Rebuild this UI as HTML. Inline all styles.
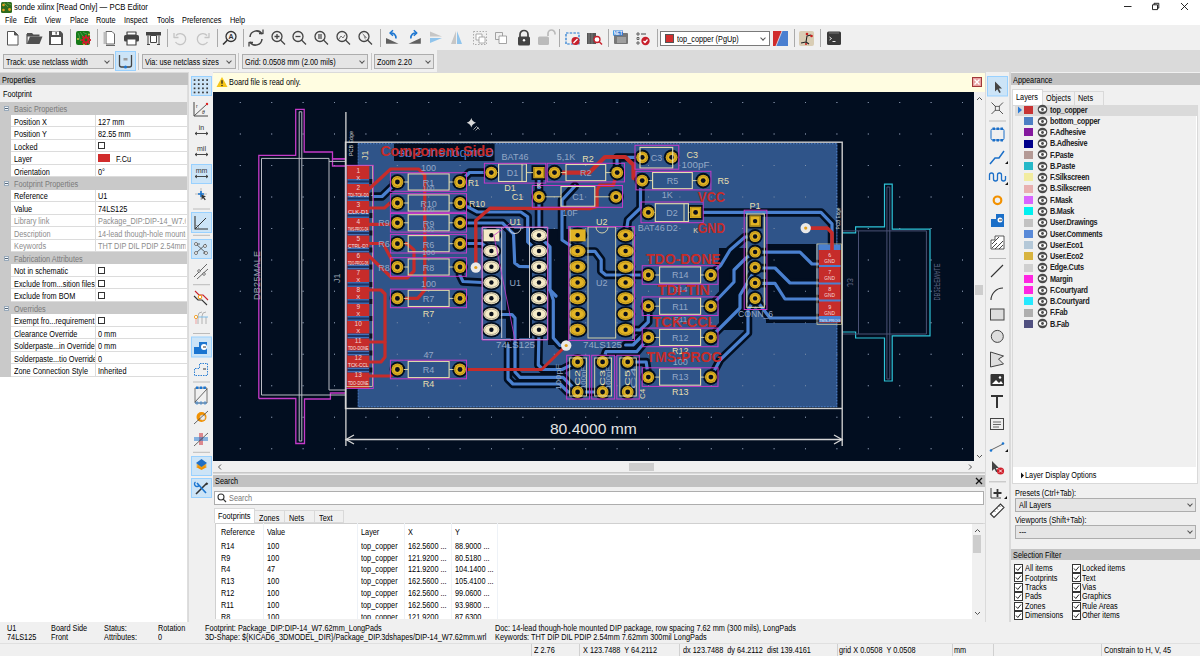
<!DOCTYPE html>
<html><head><meta charset="utf-8">
<style>
*{box-sizing:border-box;margin:0;padding:0}
html,body{width:1200px;height:656px;overflow:hidden;background:#dadada;font-family:"Liberation Sans",sans-serif;font-size:7.5px;color:#000}
.a{position:absolute}
.t{position:absolute;white-space:nowrap;line-height:1;font-size:8.5px;transform:scaleX(0.86);transform-origin:0 0;margin-top:-0.5px}
#title{left:0;top:0;width:1200px;height:13px;background:#fff}
#menu{left:0;top:13px;width:1200px;height:12px;background:#fff}
#tb1{left:0;top:25px;width:1200px;height:25px;background:#f0f0f0}
#tb2{left:0;top:50px;width:437px;height:22px;background:#f0f0f0}
.sep{position:absolute;width:1px;background:#c8c8c8}
.combo{position:absolute;background:#e5e5e5;border:1px solid #adadad}
.combo.w{background:#fff;border-color:#7a7a7a}
.arrow{position:absolute;width:5px;height:5px;border-right:1px solid #444;border-bottom:1px solid #444;transform:rotate(45deg)}
.hdr{position:absolute;background:#c2c2c2;height:12px}
.btnon{position:absolute;background:#cce4f7;border:1px solid #99d1ff}
</style></head><body>
<!-- title -->
<div class="a" id="title">
 <svg class="a" style="left:1px;top:2px" width="11" height="11"><rect x="0" y="0" width="11" height="11" rx="1.5" fill="#2e6b1e"/><path d="M3 0.5C4 3 6 3 7 5M6 0.5C7 2 9 2 10.5 3" stroke="#6fae4a" stroke-width="0.8" fill="none"/><circle cx="2.5" cy="3" r="1.3" fill="#e8a020"/><circle cx="2.5" cy="8" r="1.3" fill="#e8a020"/><circle cx="8.5" cy="7.5" r="1.4" fill="#e8a020"/></svg>
 <div class="t" style="left:14px;top:3px;font-size:9px">sonde xilinx [Read Only] — PCB Editor</div>
 <svg class="a" style="left:1118px;top:0" width="80" height="13"><path d="M6 6.5H13.5" stroke="#111" stroke-width="0.9"/><path d="M34.5 4.8h5v4.8h-5z M36 4.8v-1.5h4.8v4.8h-1.2" fill="none" stroke="#111" stroke-width="0.9"/><path d="M63 3L70 10M70 3L63 10" stroke="#111" stroke-width="0.9"/></svg>
</div>
<div class="a" id="menu" style="padding-top:1px">
 <div class="t" style="left:5px;top:3px">File</div>
 <div class="t" style="left:24px;top:3px">Edit</div>
 <div class="t" style="left:45px;top:3px">View</div>
 <div class="t" style="left:70px;top:3px">Place</div>
 <div class="t" style="left:96px;top:3px">Route</div>
 <div class="t" style="left:124px;top:3px">Inspect</div>
 <div class="t" style="left:157px;top:3px">Tools</div>
 <div class="t" style="left:182px;top:3px">Preferences</div>
 <div class="t" style="left:230px;top:3px">Help</div>
</div>
<div class="a" id="tb1"></div>
<svg class="a" style="left:0;top:25px" width="1200" height="25" viewBox="0 0 1200 25">
<g fill="none" stroke-linejoin="round">
<!-- new -->
<path d="M7.5 6.5h7l3.5 3.5v10h-10.5z" fill="#fff" stroke="#555" stroke-width="1"/>
<path d="M14.5 6.5v3.5h3.5" fill="#555" stroke="#555"/>
<!-- open -->
<path d="M27 8h5l1.5 1.5h6v2h-12.5z" fill="#505050"/>
<path d="M27 19l3-7.5h12.5l-3 7.5z" fill="#505050"/>
<path d="M27 9v10" stroke="#505050" stroke-width="1.2"/>
<!-- save -->
<path d="M49 6h11.5l2.5 2.5v11.5h-14z" fill="#505050"/>
<rect x="52" y="6.5" width="7" height="3.5" fill="#fff"/>
<rect x="55.5" y="7" width="1.3" height="2.5" fill="#505050"/>
<rect x="51" y="12" width="10" height="7" fill="#fff"/>
<!-- sep -->
<rect x="70" y="4" width="1" height="18" fill="#aaa" stroke="none"/>
<!-- pcb -->
<rect x="76" y="6" width="14" height="14" rx="2" fill="#157a18"/>
<path d="M78 8c2 3 1 6 3 8M80 7c2 2 2 4 4 5M83 7c1 1 3 2 4 2" stroke="#5aa85a" stroke-width="0.8"/>
<rect x="85.1" y="10" width="1.8" height="2.2" fill="#d01c2c" transform="rotate(0 86 15)"/><rect x="85.1" y="10" width="1.8" height="2.2" fill="#d01c2c" transform="rotate(45 86 15)"/><rect x="85.1" y="10" width="1.8" height="2.2" fill="#d01c2c" transform="rotate(90 86 15)"/><rect x="85.1" y="10" width="1.8" height="2.2" fill="#d01c2c" transform="rotate(135 86 15)"/><rect x="85.1" y="10" width="1.8" height="2.2" fill="#d01c2c" transform="rotate(180 86 15)"/><rect x="85.1" y="10" width="1.8" height="2.2" fill="#d01c2c" transform="rotate(225 86 15)"/><rect x="85.1" y="10" width="1.8" height="2.2" fill="#d01c2c" transform="rotate(270 86 15)"/><rect x="85.1" y="10" width="1.8" height="2.2" fill="#d01c2c" transform="rotate(315 86 15)"/><circle cx="86" cy="15" r="3.4" fill="#d01c2c"/><circle cx="86" cy="15" r="1.4" fill="#157a18"/><circle cx="89" cy="9.5" r="0.9" fill="#f2c94c"/><circle cx="84" cy="19.5" r="0.8" fill="#f2c94c"/>
<circle cx="78" cy="14" r="0.9" fill="#f2c94c"/>
<rect x="97" y="4" width="1" height="18" fill="#aaa" stroke="none"/>
<!-- page -->
<path d="M106 6.5h6l2.5 2.5v10h-8.5z" fill="#fff" stroke="#666" stroke-width="1"/>
<rect x="103.5" y="7" width="2.5" height="12" fill="#bbb"/>
<path d="M106 20.5h9" stroke="#666"/>
<!-- print -->
<path d="M127 7h9v3h-9z" fill="#fff" stroke="#444" stroke-width="1.2"/>
<rect x="124" y="10" width="15" height="6.5" rx="1.5" fill="#444"/>
<path d="M127 14h9v6h-9z" fill="#fff" stroke="#444" stroke-width="1.2"/>
<!-- plot -->
<rect x="146" y="7" width="15" height="3.5" fill="#444"/>
<path d="M148 10.5v9M159 10.5v9M147 19.5h3M157 19.5h3" stroke="#444" stroke-width="1"/>
<path d="M150.5 10.5h6v7h-6z" fill="#fff" stroke="#444" stroke-width="1"/>
<rect x="167" y="4" width="1" height="18" fill="#aaa" stroke="none"/>
<!-- undo/redo -->
<path d="M176 10.5a5.5 5.5 0 1 1 -0.5 6.5" stroke="#c4c4c4" stroke-width="1.3"/>
<path d="M174 8v4.5h4.5" stroke="#c4c4c4" stroke-width="1.3"/>
<path d="M207 10.5a5.5 5.5 0 1 0 0.5 6.5" stroke="#c4c4c4" stroke-width="1.3"/>
<path d="M209 8v4.5h-4.5" stroke="#c4c4c4" stroke-width="1.3"/>
<rect x="217" y="4" width="1" height="18" fill="#aaa" stroke="none"/>
<!-- find -->
<circle cx="231" cy="11.5" r="5" stroke="#333" stroke-width="1.3"/>
<path d="M227.5 15l-4.5 4.5" stroke="#333" stroke-width="1.6"/>
<text x="231" y="14" font-size="7" font-weight="bold" text-anchor="middle" fill="#333" stroke="none" font-family="Liberation Sans">A</text>
<rect x="243" y="4" width="1" height="18" fill="#aaa" stroke="none"/>
<!-- refresh -->
<path d="M250 12a6.5 6.5 0 0 1 12 -3M262 14a6.5 6.5 0 0 1 -12 3" stroke="#444" stroke-width="1.5"/>
<path d="M259 8.5h4v-4M253 17.5h-4v4" stroke="#444" stroke-width="1.3"/>
<!-- zooms -->
<g stroke="#444" stroke-width="1.3">
<circle cx="277" cy="11.5" r="5"/><path d="M280.5 15l4.5 4.5"/><path d="M274.5 11.5h5M277 9v5"/>
<circle cx="298" cy="11.5" r="5"/><path d="M301.5 15l4.5 4.5"/><path d="M295.5 11.5h5"/>
<circle cx="320" cy="11.5" r="5"/><path d="M323.5 15l4.5 4.5"/>
<circle cx="342" cy="11.5" r="5"/><path d="M345.5 15l4.5 4.5"/>
<circle cx="364" cy="11.5" r="5"/><path d="M367.5 15l4.5 4.5"/>
</g>
<rect x="318" y="9" width="4" height="5" fill="#888"/>
<path d="M339 14l2-3 2 2 2-3" stroke="#777" stroke-width="1"/>
<path d="M362.5 8.5l4 4h-2l1 2" stroke="#888" fill="#888" stroke-width="0.8"/>
<rect x="380" y="4" width="1" height="18" fill="#aaa" stroke="none"/>
<!-- rotate -->
<path d="M386 12.9V18.8H398.5z" fill="#606060"/>
<path d="M396 13.5C396 9.5 393.5 7.8 390.5 8" stroke="#1b75d0" stroke-width="1.6"/>
<path d="M393 5.3L390 8L393 10.7" stroke="#1b75d0" stroke-width="1.5"/>
<path d="M408.5 18.8L420.8 12.9V18.8z" fill="#606060"/>
<path d="M410.8 13.5C410.8 9.5 413.3 7.8 416.3 8" stroke="#1b75d0" stroke-width="1.6"/>
<path d="M413.8 5.3L416.8 8L413.8 10.7" stroke="#1b75d0" stroke-width="1.5"/>
<!-- flip -->
<path d="M430 6.5l12 5h-12z" fill="#c6c6c6"/>
<path d="M430 13l12 0h-0l-12 5z" fill="#90c4ec"/>
<path d="M451 19l5-13v13z" fill="#c6c6c6"/>
<path d="M457 6l5 13h-5z" fill="#90c4ec"/>
<!-- group -->
<rect x="473.5" y="6.5" width="13" height="13" stroke="#999" stroke-width="0.8" stroke-dasharray="1.5 1.5"/>
<rect x="476" y="9" width="6" height="6" fill="#fff" stroke="#999" stroke-width="0.8"/>
<rect x="479" y="12" width="6" height="6" fill="#fff" stroke="#999" stroke-width="0.8"/>
<rect x="495.5" y="7.5" width="7" height="7" stroke="#999" stroke-width="0.9"/>
<rect x="499" y="11" width="7.5" height="7.5" fill="#fff" stroke="#999" stroke-width="0.9"/>
<!-- lock -->
<path d="M520 12v-2.5a4 4 0 0 1 8 0v2.5" stroke="#444" stroke-width="1.7"/>
<rect x="518" y="11.5" width="12" height="9" rx="1.5" fill="#444"/>
<circle cx="524" cy="15.3" r="1.2" fill="#fff"/>
<path d="M548 11v-2.5a3.5 3.5 0 0 1 7 0v1" stroke="#bbb" stroke-width="1.7"/>
<rect x="538" y="11.5" width="11" height="8.5" rx="1.5" fill="#bbb"/>
<rect x="559" y="4" width="1" height="18" fill="#aaa" stroke="none"/>
<!-- fp editor -->
<path d="M566 8h13v11h-13z" stroke="#1b75d0" stroke-width="1.2" stroke-dasharray="2.5 1.2"/>
<circle cx="575.5" cy="16" r="4" fill="#c8202c"/>
<path d="M573.5 18l4-4" stroke="#fff" stroke-width="1.2"/>
<!-- fp browser -->
<rect x="587" y="8" width="9" height="11" fill="#555"/>
<path d="M589 8v11M592 8v11" stroke="#888" stroke-width="0.8"/>
<circle cx="597" cy="14.5" r="3" fill="#fff" stroke="#c8202c" stroke-width="1.3"/>
<path d="M599 16.5l3 3" stroke="#c8202c" stroke-width="1.4"/>
<rect x="608" y="4" width="1" height="18" fill="#aaa" stroke="none"/>
<!-- netlist -->
<rect x="614" y="8" width="14" height="11" rx="1" fill="#777"/>
<path d="M617 13h9M617 15h9M617 17h9" stroke="#ddd" stroke-width="0.8"/>
<rect x="613" y="5.5" width="10" height="5" fill="#2a7ad6"/>
<text x="618" y="10" font-size="4.5" font-weight="bold" text-anchor="middle" fill="#fff" stroke="none" font-family="Liberation Sans">NET</text>
<!-- drc -->
<path d="M637 8h2v2h-2zM637 12.5h2v2h-2zM637 17h2v2h-2z" stroke="#444" stroke-width="0.8"/>
<path d="M641 9h5" stroke="#444"/>
<circle cx="645.5" cy="16" r="4.2" fill="#c8202c"/>
<path d="M643.5 16l1.5 1.5 2.5-3" stroke="#fff" stroke-width="1.2"/>
<rect x="657" y="4" width="1" height="18" fill="#aaa" stroke="none"/>
<!-- layer pair -->
<path d="M773 6h15v15h-15z" fill="#4a7fd0"/>
<path d="M773 6h9l-6 15h-3z" fill="#d02c2c"/>
<path d="M782 6l-6 15" stroke="#eee" stroke-width="0.8"/>
<rect x="794" y="4" width="1" height="18" fill="#aaa" stroke="none"/>
<!-- router -->
<rect x="799" y="6" width="15" height="15" rx="2" fill="#d9cdb4"/>
<path d="M801 18l5-1 1-6 4 -1M806 17l3 2" stroke="#222" stroke-width="1.1"/>
<circle cx="807" cy="9" r="1.3" fill="#c81e1e"/><circle cx="811.5" cy="11" r="1.3" fill="#c81e1e"/><circle cx="806" cy="19" r="1" fill="#c81e1e"/>
<rect x="820" y="4" width="1" height="18" fill="#aaa" stroke="none"/>
<!-- scripting -->
<rect x="827" y="6.5" width="14" height="13.5" rx="1.5" fill="#3a3a3a"/>
<path d="M829 8h10" stroke="#999" stroke-width="0.7"/>
<path d="M829.5 12l2 1.5-2 1.5M832.5 16.5h3" stroke="#fff" stroke-width="0.9"/>
</g>
</svg>

<div class="combo w" style="left:660px;top:31px;width:110px;height:15px"></div>
<div class="a" style="left:665px;top:34px;width:9px;height:9px;background:#d32f2f;border:1px solid #555"></div>
<div class="t" style="left:677px;top:35px">top_copper (PgUp)</div>
<div class="arrow" style="left:761px;top:35.5px;width:4px;height:4px;border-color:#555"></div>

<div class="a" id="tb2"></div>
<div class="combo" style="left:3px;top:54px;width:111px;height:15px"></div>
<div class="t" style="left:6px;top:58px">Track: use netclass width</div>
<div class="arrow" style="left:105px;top:58.5px;width:4px;height:4px;border-color:#555"></div>
<div class="btnon" style="left:115px;top:51px;width:21px;height:20px"></div>
<svg class="a" style="left:115px;top:51px" width="21" height="20"><path d="M4.5 4v10a2 2 0 0 0 2 2h8a2 2 0 0 0 2-2v-10" fill="none" stroke="#444" stroke-width="1.3"/><rect x="8.5" y="7" width="4" height="2.5" fill="#999"/><circle cx="10.5" cy="16" r="1.6" fill="#1b75d0"/></svg>
<div class="sep" style="left:138px;top:53px;height:17px"></div>
<div class="combo" style="left:142px;top:54px;width:94px;height:15px"></div>
<div class="t" style="left:145px;top:58px">Via: use netclass sizes</div>
<div class="arrow" style="left:227px;top:58.5px;width:4px;height:4px;border-color:#555"></div>
<div class="sep" style="left:238px;top:53px;height:17px"></div>
<div class="combo" style="left:242px;top:54px;width:126px;height:15px"></div>
<div class="t" style="left:245px;top:58px">Grid: 0.0508 mm (2.00 mils)</div>
<div class="arrow" style="left:360px;top:58.5px;width:4px;height:4px;border-color:#555"></div>
<div class="sep" style="left:371px;top:53px;height:17px"></div>
<div class="combo" style="left:374px;top:54px;width:60px;height:15px"></div>
<div class="t" style="left:377px;top:58px">Zoom 2.20</div>
<div class="arrow" style="left:426px;top:58.5px;width:4px;height:4px;border-color:#555"></div>

<!-- left properties -->
<div class="a" id="props" style="left:0;top:73px;width:188px;height:550px;background:#fff;border-right:1px solid #dedede"></div>
<div class="hdr" style="left:0;top:73px;width:188px;height:12px"></div>
<div class="t" style="left:2px;top:76.5px">Properties</div>
<div class="a" style="left:0;top:85px;width:187px;height:17px;background:#f0f0f0"></div>
<div class="t" style="left:3px;top:90.5px">Footprint</div>
<div class="a" style="left:0;top:101.5px;width:187px;height:275.47px;background:#c9c9c9"></div>
<div class="a" style="left:3.5px;top:106.04px;width:5px;height:5px;background:#f4f8fc;border:0.5px solid #9ab"></div>
<div class="a" style="left:4.5px;top:108.14px;width:3px;height:0.8px;background:#567"></div>
<div class="t" style="left:14px;top:105.64px;color:#7a7a7a">Basic Properties</div>
<div class="a" style="left:11px;top:114.78px;width:176px;height:12.48px;background:#fff;border-bottom:1px solid #dcdcdc"></div>
<div class="a" style="left:95px;top:114.78px;width:1px;height:12.48px;background:#dcdcdc"></div>
<div class="t" style="left:13.8px;top:118.11px;color:#000;width:94px;overflow:hidden">Position X</div>
<div class="t" style="left:98px;top:118.11px;color:#000;width:102px;overflow:hidden">127 mm</div>
<div class="a" style="left:11px;top:127.25px;width:176px;height:12.48px;background:#fff;border-bottom:1px solid #dcdcdc"></div>
<div class="a" style="left:95px;top:127.25px;width:1px;height:12.48px;background:#dcdcdc"></div>
<div class="t" style="left:13.8px;top:130.59px;color:#000;width:94px;overflow:hidden">Position Y</div>
<div class="t" style="left:98px;top:130.59px;color:#000;width:102px;overflow:hidden">82.55 mm</div>
<div class="a" style="left:11px;top:139.73px;width:176px;height:12.48px;background:#fff;border-bottom:1px solid #dcdcdc"></div>
<div class="a" style="left:95px;top:139.73px;width:1px;height:12.48px;background:#dcdcdc"></div>
<div class="t" style="left:13.8px;top:143.07px;color:#000;width:94px;overflow:hidden">Locked</div>
<div class="a" style="left:98px;top:142.47px;width:7px;height:7px;border:1px solid #333;background:#fff"></div>
<div class="a" style="left:11px;top:152.20px;width:176px;height:12.48px;background:#fff;border-bottom:1px solid #dcdcdc"></div>
<div class="a" style="left:95px;top:152.20px;width:1px;height:12.48px;background:#dcdcdc"></div>
<div class="t" style="left:13.8px;top:155.54px;color:#000;width:94px;overflow:hidden">Layer</div>
<div class="a" style="left:98px;top:154.44px;width:12px;height:8px;background:#d12c2c"></div>
<div class="t" style="left:116px;top:155.54px">F.Cu</div>
<div class="a" style="left:11px;top:164.68px;width:176px;height:12.48px;background:#fff;border-bottom:1px solid #dcdcdc"></div>
<div class="a" style="left:95px;top:164.68px;width:1px;height:12.48px;background:#dcdcdc"></div>
<div class="t" style="left:13.8px;top:168.02px;color:#000;width:94px;overflow:hidden">Orientation</div>
<div class="t" style="left:98px;top:168.02px;color:#000;width:102px;overflow:hidden">0°</div>
<div class="a" style="left:3.5px;top:180.89px;width:5px;height:5px;background:#f4f8fc;border:0.5px solid #9ab"></div>
<div class="a" style="left:4.5px;top:182.99px;width:3px;height:0.8px;background:#567"></div>
<div class="t" style="left:14px;top:180.49px;color:#7a7a7a">Footprint Properties</div>
<div class="a" style="left:11px;top:189.63px;width:176px;height:12.48px;background:#fff;border-bottom:1px solid #dcdcdc"></div>
<div class="a" style="left:95px;top:189.63px;width:1px;height:12.48px;background:#dcdcdc"></div>
<div class="t" style="left:13.8px;top:192.97px;color:#000;width:94px;overflow:hidden">Reference</div>
<div class="t" style="left:98px;top:192.97px;color:#000;width:102px;overflow:hidden">U1</div>
<div class="a" style="left:11px;top:202.11px;width:176px;height:12.48px;background:#fff;border-bottom:1px solid #dcdcdc"></div>
<div class="a" style="left:95px;top:202.11px;width:1px;height:12.48px;background:#dcdcdc"></div>
<div class="t" style="left:13.8px;top:205.45px;color:#000;width:94px;overflow:hidden">Value</div>
<div class="t" style="left:98px;top:205.45px;color:#000;width:102px;overflow:hidden">74LS125</div>
<div class="a" style="left:11px;top:214.58px;width:176px;height:12.48px;background:#fff;border-bottom:1px solid #dcdcdc"></div>
<div class="a" style="left:95px;top:214.58px;width:1px;height:12.48px;background:#dcdcdc"></div>
<div class="t" style="left:13.8px;top:217.92px;color:#8c8c8c;width:94px;overflow:hidden">Library link</div>
<div class="t" style="left:98px;top:217.92px;color:#8c8c8c;width:102px;overflow:hidden">Package_DIP:DIP-14_W7.62mm_LongPads</div>
<div class="a" style="left:11px;top:227.06px;width:176px;height:12.48px;background:#fff;border-bottom:1px solid #dcdcdc"></div>
<div class="a" style="left:95px;top:227.06px;width:1px;height:12.48px;background:#dcdcdc"></div>
<div class="t" style="left:13.8px;top:230.40px;color:#8c8c8c;width:94px;overflow:hidden">Description</div>
<div class="t" style="left:98px;top:230.40px;color:#8c8c8c;width:102px;overflow:hidden">14-lead though-hole mounted DIP package</div>
<div class="a" style="left:11px;top:239.54px;width:176px;height:12.48px;background:#fff;border-bottom:1px solid #dcdcdc"></div>
<div class="a" style="left:95px;top:239.54px;width:1px;height:12.48px;background:#dcdcdc"></div>
<div class="t" style="left:13.8px;top:242.87px;color:#8c8c8c;width:94px;overflow:hidden">Keywords</div>
<div class="t" style="left:98px;top:242.87px;color:#8c8c8c;width:102px;overflow:hidden">THT DIP DIL PDIP 2.54mm 7.62mm</div>
<div class="a" style="left:3.5px;top:255.75px;width:5px;height:5px;background:#f4f8fc;border:0.5px solid #9ab"></div>
<div class="a" style="left:4.5px;top:257.85px;width:3px;height:0.8px;background:#567"></div>
<div class="t" style="left:14px;top:255.35px;color:#7a7a7a">Fabrication Attributes</div>
<div class="a" style="left:11px;top:264.49px;width:176px;height:12.48px;background:#fff;border-bottom:1px solid #dcdcdc"></div>
<div class="a" style="left:95px;top:264.49px;width:1px;height:12.48px;background:#dcdcdc"></div>
<div class="t" style="left:13.8px;top:267.83px;color:#000;width:94px;overflow:hidden">Not in schematic</div>
<div class="a" style="left:98px;top:267.23px;width:7px;height:7px;border:1px solid #333;background:#fff"></div>
<div class="a" style="left:11px;top:276.96px;width:176px;height:12.48px;background:#fff;border-bottom:1px solid #dcdcdc"></div>
<div class="a" style="left:95px;top:276.96px;width:1px;height:12.48px;background:#dcdcdc"></div>
<div class="t" style="left:13.8px;top:280.30px;color:#000;width:94px;overflow:hidden">Exclude from...sition files</div>
<div class="a" style="left:98px;top:279.70px;width:7px;height:7px;border:1px solid #333;background:#fff"></div>
<div class="a" style="left:11px;top:289.44px;width:176px;height:12.48px;background:#fff;border-bottom:1px solid #dcdcdc"></div>
<div class="a" style="left:95px;top:289.44px;width:1px;height:12.48px;background:#dcdcdc"></div>
<div class="t" style="left:13.8px;top:292.78px;color:#000;width:94px;overflow:hidden">Exclude from BOM</div>
<div class="a" style="left:98px;top:292.18px;width:7px;height:7px;border:1px solid #333;background:#fff"></div>
<div class="a" style="left:3.5px;top:305.65px;width:5px;height:5px;background:#f4f8fc;border:0.5px solid #9ab"></div>
<div class="a" style="left:4.5px;top:307.75px;width:3px;height:0.8px;background:#567"></div>
<div class="t" style="left:14px;top:305.25px;color:#7a7a7a">Overrides</div>
<div class="a" style="left:11px;top:314.39px;width:176px;height:12.48px;background:#fff;border-bottom:1px solid #dcdcdc"></div>
<div class="a" style="left:95px;top:314.39px;width:1px;height:12.48px;background:#dcdcdc"></div>
<div class="t" style="left:13.8px;top:317.73px;color:#000;width:94px;overflow:hidden">Exempt fro...requirement</div>
<div class="a" style="left:98px;top:317.13px;width:7px;height:7px;border:1px solid #333;background:#fff"></div>
<div class="a" style="left:11px;top:326.87px;width:176px;height:12.48px;background:#fff;border-bottom:1px solid #dcdcdc"></div>
<div class="a" style="left:95px;top:326.87px;width:1px;height:12.48px;background:#dcdcdc"></div>
<div class="t" style="left:13.8px;top:330.21px;color:#000;width:94px;overflow:hidden">Clearance Override</div>
<div class="t" style="left:98px;top:330.21px;color:#000;width:102px;overflow:hidden">0 mm</div>
<div class="a" style="left:11px;top:339.34px;width:176px;height:12.48px;background:#fff;border-bottom:1px solid #dcdcdc"></div>
<div class="a" style="left:95px;top:339.34px;width:1px;height:12.48px;background:#dcdcdc"></div>
<div class="t" style="left:13.8px;top:342.68px;color:#000;width:94px;overflow:hidden">Solderpaste...in Override</div>
<div class="t" style="left:98px;top:342.68px;color:#000;width:102px;overflow:hidden">0 mm</div>
<div class="a" style="left:11px;top:351.82px;width:176px;height:12.48px;background:#fff;border-bottom:1px solid #dcdcdc"></div>
<div class="a" style="left:95px;top:351.82px;width:1px;height:12.48px;background:#dcdcdc"></div>
<div class="t" style="left:13.8px;top:355.16px;color:#000;width:94px;overflow:hidden">Solderpaste...tio Override</div>
<div class="t" style="left:98px;top:355.16px;color:#000;width:102px;overflow:hidden">0</div>
<div class="a" style="left:11px;top:364.30px;width:176px;height:12.48px;background:#fff;border-bottom:1px solid #dcdcdc"></div>
<div class="a" style="left:95px;top:364.30px;width:1px;height:12.48px;background:#dcdcdc"></div>
<div class="t" style="left:13.8px;top:367.63px;color:#000;width:94px;overflow:hidden">Zone Connection Style</div>
<div class="t" style="left:98px;top:367.63px;color:#000;width:102px;overflow:hidden">Inherited</div>
<!-- left toolbar -->
<div class="a" id="ltb" style="left:189px;top:72px;width:24px;height:551px;background:#f0f0f0"></div>
<svg class="a" style="left:189px;top:72px" width="24" height="440" viewBox="0 0 24 440">
<g fill="none">
<rect x="2.5" y="4.5" width="20" height="19" fill="#cce4f7" stroke="#99d1ff"/>
<g fill="#383838"><rect x="4.7" y="7.2" width="1.7" height="1.7"/><rect x="8.9" y="7.2" width="1.7" height="1.7"/><rect x="13.1" y="7.2" width="1.7" height="1.7"/><rect x="17.3" y="7.2" width="1.7" height="1.7"/><rect x="4.7" y="11.3" width="1.7" height="1.7"/><rect x="8.9" y="11.3" width="1.7" height="1.7"/><rect x="13.1" y="11.3" width="1.7" height="1.7"/><rect x="17.3" y="11.3" width="1.7" height="1.7"/><rect x="4.7" y="15.5" width="1.7" height="1.7"/><rect x="8.9" y="15.5" width="1.7" height="1.7"/><rect x="13.1" y="15.5" width="1.7" height="1.7"/><rect x="17.3" y="15.5" width="1.7" height="1.7"/><rect x="4.7" y="19.6" width="1.7" height="1.7"/><rect x="8.9" y="19.6" width="1.7" height="1.7"/><rect x="13.1" y="19.6" width="1.7" height="1.7"/><rect x="17.3" y="19.6" width="1.7" height="1.7"/></g>
<!-- polar -->
<path d="M5 30v14h14" stroke="#333" stroke-width="0.9"/>
<path d="M5.5 43.5l12-11" stroke="#333" stroke-width="0.8"/>
<circle cx="18" cy="32" r="1.2" fill="#d22"/>
<text x="7" y="36" font-size="5" fill="#333" font-family="Liberation Sans">r</text>
<text x="13" y="42" font-size="5" fill="#333" font-family="Liberation Sans" font-style="italic">θ</text>
<!-- in -->
<text x="12.5" y="58" font-size="7" text-anchor="middle" fill="#333" font-family="Liberation Sans">in</text>
<path d="M6 61.5h13M6 61.5l2-1.5M6 61.5l2 1.5M19 61.5l-2-1.5M19 61.5l-2 1.5" stroke="#333" stroke-width="0.9"/>
<text x="12.5" y="79" font-size="7" text-anchor="middle" fill="#333" font-family="Liberation Sans">mil</text>
<path d="M6 82.5h13M6 82.5l2-1.5M6 82.5l2 1.5M19 82.5l-2-1.5M19 82.5l-2 1.5" stroke="#333" stroke-width="0.9"/>
<rect x="2.5" y="92.5" width="20" height="19" fill="#cce4f7" stroke="#99d1ff"/>
<text x="12.5" y="101" font-size="7" text-anchor="middle" fill="#333" font-family="Liberation Sans">mm</text>
<path d="M6 104.5h13M6 104.5l2-1.5M6 104.5l2 1.5M19 104.5l-2-1.5M19 104.5l-2 1.5" stroke="#333" stroke-width="0.9"/>
<!-- cursor -->
<path d="M12 116v12M6 122h12" stroke="#999" stroke-width="0.6"/>
<path d="M12 119v6M9 122h6" stroke="#1b75d0" stroke-width="1.6"/>
<path d="M12.5 122.5l4.5 2-2 .8 1.8 2.2-1 .8-1.8-2.2-1.3 1.6z" fill="#333"/>
<rect x="4" y="136.5" width="17" height="1" fill="#bbb"/>
<rect x="2.5" y="140.5" width="20" height="20" fill="#cce4f7" stroke="#99d1ff"/>
<path d="M6 144v13h13" stroke="#333" stroke-width="1.1"/>
<path d="M6 157l11-11" stroke="#333" stroke-width="1"/>
<path d="M6 153a4 4 0 0 1 4 4" stroke="#777" stroke-width="0.6"/>
<rect x="4" y="162.8" width="17" height="1" fill="#bbb"/>
<rect x="2.5" y="167.5" width="20" height="19" fill="#cce4f7" stroke="#99d1ff"/>
<path d="M7 172l10 9M7 181l10-9M7 172l4 0M17 181h-3" stroke="#444" stroke-width="0.8"/>
<circle cx="7" cy="172" r="1.5" fill="#fff" stroke="#444" stroke-width="0.7"/><circle cx="7" cy="181" r="1.5" fill="#fff" stroke="#444" stroke-width="0.7"/><circle cx="17" cy="181" r="1.5" fill="#fff" stroke="#444" stroke-width="0.7"/><circle cx="16" cy="174" r="1.5" fill="#fff" stroke="#444" stroke-width="0.7"/>
<path d="M5 205l13-13M8 207l11-10" stroke="#444" stroke-width="0.8"/>
<circle cx="10" cy="199" r="1.3" fill="#fff" stroke="#444" stroke-width="0.7"/><circle cx="15" cy="202" r="1.3" fill="#fff" stroke="#444" stroke-width="0.7"/>
<rect x="4" y="212.2" width="17" height="1" fill="#bbb"/>
<!-- high contrast -->
<path d="M6 219l4 4h4l5 5" stroke="#c8202c" stroke-width="1.1"/>
<path d="M5 224l4 4h4l5 5" stroke="#333" stroke-width="1.1"/>
<circle cx="11" cy="225" r="1.8" fill="#fff" stroke="#f29100" stroke-width="1"/>
<!-- via-ish -->
<path d="M9 252v-8a4 4 0 0 1 4-4M13 252v-8a4 4 0 0 1 4-4M17 252v-7" stroke="#aaa" stroke-width="0.9"/>
<path d="M6 245h13" stroke="#6fb7e8" stroke-width="0.9"/>
<path d="M7 246v6" stroke="#f0a0a0" stroke-width="1"/>
<circle cx="7" cy="245" r="1.6" fill="#fff" stroke="#f29100" stroke-width="0.8"/>
<rect x="4" y="261" width="17" height="1" fill="#bbb"/>
<rect x="2.5" y="265" width="20" height="20" fill="#cce4f7" stroke="#99d1ff"/>
<path d="M5 282v-7h5v-5h8v12z" fill="#1b75d0"/>
<circle cx="15" cy="275" r="3" fill="#fff"/>
<path d="M14 275h3" stroke="#333" stroke-width="1"/>
<path d="M5.5 303.5v-7h5v-5h8v12z" stroke="#1b75d0" stroke-width="0.9" stroke-dasharray="1.5 1"/>
<path d="M14 297h3" stroke="#333" stroke-width="1"/>
<rect x="4" y="309.5" width="17" height="1" fill="#bbb"/>
<!-- fp -->
<path d="M6 316h12v15h-12z" stroke="#555" stroke-width="0.8"/>
<rect x="7" y="314.5" width="2.5" height="2.5" fill="#1b75d0"/><rect x="10.7" y="314.5" width="2.5" height="2.5" fill="#1b75d0"/><rect x="14.4" y="314.5" width="2.5" height="2.5" fill="#1b75d0"/>
<circle cx="8" cy="331" r="1.2" stroke="#1b75d0" stroke-width="0.7"/><circle cx="12" cy="331" r="1.2" stroke="#1b75d0" stroke-width="0.7"/><circle cx="16" cy="331" r="1.2" stroke="#1b75d0" stroke-width="0.7"/>
<path d="M6 330l12-13" stroke="#444" stroke-width="0.8"/>
<!-- pads -->
<circle cx="12.5" cy="345" r="5" fill="#f29100"/>
<circle cx="13.5" cy="345.5" r="2.5" fill="#eee" stroke="#ccc" stroke-width="0.6"/>
<path d="M5 352l14-13" stroke="#444" stroke-width="0.8"/>
<!-- vias -->
<path d="M11 361v12M13 361v12" stroke="#c8202c" stroke-width="1"/>
<path d="M5 366h14M5 368h14" stroke="#1b75d0" stroke-width="1"/>
<path d="M5 374l14-13" stroke="#444" stroke-width="0.8"/>
<rect x="4" y="379.8" width="17" height="1" fill="#bbb"/>
<rect x="2.5" y="384.5" width="20" height="19" fill="#cce4f7" stroke="#99d1ff"/>
<path d="M7 395l5.5-3 5.5 3-5.5 3z" fill="#f29100"/>
<path d="M7 393l5.5-3 5.5 3-5.5 3z" fill="#e8a020"/>
<path d="M7 391l5.5-4 5.5 4-5.5 4z" fill="#1f6fc5"/>
<rect x="2.5" y="406.5" width="20" height="19" fill="#cce4f7" stroke="#99d1ff"/>
<path d="M7 422l10-10" stroke="#333" stroke-width="1.6"/>
<path d="M17 411l1.5 1.5" stroke="#333" stroke-width="2.2"/>
<path d="M8 411l9 10" stroke="#1b75d0" stroke-width="1.6"/>
<path d="M6.5 410a2.5 2.5 0 1 0 3.5 3.5" stroke="#1b75d0" stroke-width="1.4"/>
</g>
</svg>

<!-- canvas -->
<div class="a" id="info" style="left:213px;top:73px;width:772px;height:19px;background:#fffde1"></div>
<div class="a" id="canvas" style="left:213px;top:92px;width:761px;height:369px;background:#020e20;overflow:hidden"></div>
<svg class="a" style="left:213px;top:92px" width="761" height="369" viewBox="213 92 761 369" font-family="Liberation Sans">
<rect x="213" y="92" width="761" height="369" fill="#020e20"/>
<path d="M239.8 102.0h1v1h-1zM239.8 133.5h1v1h-1zM239.8 164.9h1v1h-1zM239.8 196.4h1v1h-1zM239.8 227.9h1v1h-1zM239.8 259.4h1v1h-1zM239.8 290.8h1v1h-1zM239.8 322.3h1v1h-1zM239.8 353.8h1v1h-1zM239.8 385.2h1v1h-1zM239.8 416.7h1v1h-1zM239.8 448.2h1v1h-1zM271.2 102.0h1v1h-1zM271.2 133.5h1v1h-1zM271.2 164.9h1v1h-1zM271.2 196.4h1v1h-1zM271.2 227.9h1v1h-1zM271.2 259.4h1v1h-1zM271.2 290.8h1v1h-1zM271.2 322.3h1v1h-1zM271.2 353.8h1v1h-1zM271.2 385.2h1v1h-1zM271.2 416.7h1v1h-1zM271.2 448.2h1v1h-1zM302.6 102.0h1v1h-1zM302.6 133.5h1v1h-1zM302.6 164.9h1v1h-1zM302.6 196.4h1v1h-1zM302.6 227.9h1v1h-1zM302.6 259.4h1v1h-1zM302.6 290.8h1v1h-1zM302.6 322.3h1v1h-1zM302.6 353.8h1v1h-1zM302.6 385.2h1v1h-1zM302.6 416.7h1v1h-1zM302.6 448.2h1v1h-1zM334.0 102.0h1v1h-1zM334.0 133.5h1v1h-1zM334.0 164.9h1v1h-1zM334.0 196.4h1v1h-1zM334.0 227.9h1v1h-1zM334.0 259.4h1v1h-1zM334.0 290.8h1v1h-1zM334.0 322.3h1v1h-1zM334.0 353.8h1v1h-1zM334.0 385.2h1v1h-1zM334.0 416.7h1v1h-1zM334.0 448.2h1v1h-1zM365.4 102.0h1v1h-1zM365.4 133.5h1v1h-1zM365.4 164.9h1v1h-1zM365.4 196.4h1v1h-1zM365.4 227.9h1v1h-1zM365.4 259.4h1v1h-1zM365.4 290.8h1v1h-1zM365.4 322.3h1v1h-1zM365.4 353.8h1v1h-1zM365.4 385.2h1v1h-1zM365.4 416.7h1v1h-1zM365.4 448.2h1v1h-1zM396.8 102.0h1v1h-1zM396.8 133.5h1v1h-1zM396.8 164.9h1v1h-1zM396.8 196.4h1v1h-1zM396.8 227.9h1v1h-1zM396.8 259.4h1v1h-1zM396.8 290.8h1v1h-1zM396.8 322.3h1v1h-1zM396.8 353.8h1v1h-1zM396.8 385.2h1v1h-1zM396.8 416.7h1v1h-1zM396.8 448.2h1v1h-1zM428.2 102.0h1v1h-1zM428.2 133.5h1v1h-1zM428.2 164.9h1v1h-1zM428.2 196.4h1v1h-1zM428.2 227.9h1v1h-1zM428.2 259.4h1v1h-1zM428.2 290.8h1v1h-1zM428.2 322.3h1v1h-1zM428.2 353.8h1v1h-1zM428.2 385.2h1v1h-1zM428.2 416.7h1v1h-1zM428.2 448.2h1v1h-1zM459.6 102.0h1v1h-1zM459.6 133.5h1v1h-1zM459.6 164.9h1v1h-1zM459.6 196.4h1v1h-1zM459.6 227.9h1v1h-1zM459.6 259.4h1v1h-1zM459.6 290.8h1v1h-1zM459.6 322.3h1v1h-1zM459.6 353.8h1v1h-1zM459.6 385.2h1v1h-1zM459.6 416.7h1v1h-1zM459.6 448.2h1v1h-1zM491.0 102.0h1v1h-1zM491.0 133.5h1v1h-1zM491.0 164.9h1v1h-1zM491.0 196.4h1v1h-1zM491.0 227.9h1v1h-1zM491.0 259.4h1v1h-1zM491.0 290.8h1v1h-1zM491.0 322.3h1v1h-1zM491.0 353.8h1v1h-1zM491.0 385.2h1v1h-1zM491.0 416.7h1v1h-1zM491.0 448.2h1v1h-1zM522.4 102.0h1v1h-1zM522.4 133.5h1v1h-1zM522.4 164.9h1v1h-1zM522.4 196.4h1v1h-1zM522.4 227.9h1v1h-1zM522.4 259.4h1v1h-1zM522.4 290.8h1v1h-1zM522.4 322.3h1v1h-1zM522.4 353.8h1v1h-1zM522.4 385.2h1v1h-1zM522.4 416.7h1v1h-1zM522.4 448.2h1v1h-1zM553.8 102.0h1v1h-1zM553.8 133.5h1v1h-1zM553.8 164.9h1v1h-1zM553.8 196.4h1v1h-1zM553.8 227.9h1v1h-1zM553.8 259.4h1v1h-1zM553.8 290.8h1v1h-1zM553.8 322.3h1v1h-1zM553.8 353.8h1v1h-1zM553.8 385.2h1v1h-1zM553.8 416.7h1v1h-1zM553.8 448.2h1v1h-1zM585.2 102.0h1v1h-1zM585.2 133.5h1v1h-1zM585.2 164.9h1v1h-1zM585.2 196.4h1v1h-1zM585.2 227.9h1v1h-1zM585.2 259.4h1v1h-1zM585.2 290.8h1v1h-1zM585.2 322.3h1v1h-1zM585.2 353.8h1v1h-1zM585.2 385.2h1v1h-1zM585.2 416.7h1v1h-1zM585.2 448.2h1v1h-1zM616.6 102.0h1v1h-1zM616.6 133.5h1v1h-1zM616.6 164.9h1v1h-1zM616.6 196.4h1v1h-1zM616.6 227.9h1v1h-1zM616.6 259.4h1v1h-1zM616.6 290.8h1v1h-1zM616.6 322.3h1v1h-1zM616.6 353.8h1v1h-1zM616.6 385.2h1v1h-1zM616.6 416.7h1v1h-1zM616.6 448.2h1v1h-1zM648.0 102.0h1v1h-1zM648.0 133.5h1v1h-1zM648.0 164.9h1v1h-1zM648.0 196.4h1v1h-1zM648.0 227.9h1v1h-1zM648.0 259.4h1v1h-1zM648.0 290.8h1v1h-1zM648.0 322.3h1v1h-1zM648.0 353.8h1v1h-1zM648.0 385.2h1v1h-1zM648.0 416.7h1v1h-1zM648.0 448.2h1v1h-1zM679.4 102.0h1v1h-1zM679.4 133.5h1v1h-1zM679.4 164.9h1v1h-1zM679.4 196.4h1v1h-1zM679.4 227.9h1v1h-1zM679.4 259.4h1v1h-1zM679.4 290.8h1v1h-1zM679.4 322.3h1v1h-1zM679.4 353.8h1v1h-1zM679.4 385.2h1v1h-1zM679.4 416.7h1v1h-1zM679.4 448.2h1v1h-1zM710.8 102.0h1v1h-1zM710.8 133.5h1v1h-1zM710.8 164.9h1v1h-1zM710.8 196.4h1v1h-1zM710.8 227.9h1v1h-1zM710.8 259.4h1v1h-1zM710.8 290.8h1v1h-1zM710.8 322.3h1v1h-1zM710.8 353.8h1v1h-1zM710.8 385.2h1v1h-1zM710.8 416.7h1v1h-1zM710.8 448.2h1v1h-1zM742.2 102.0h1v1h-1zM742.2 133.5h1v1h-1zM742.2 164.9h1v1h-1zM742.2 196.4h1v1h-1zM742.2 227.9h1v1h-1zM742.2 259.4h1v1h-1zM742.2 290.8h1v1h-1zM742.2 322.3h1v1h-1zM742.2 353.8h1v1h-1zM742.2 385.2h1v1h-1zM742.2 416.7h1v1h-1zM742.2 448.2h1v1h-1zM773.6 102.0h1v1h-1zM773.6 133.5h1v1h-1zM773.6 164.9h1v1h-1zM773.6 196.4h1v1h-1zM773.6 227.9h1v1h-1zM773.6 259.4h1v1h-1zM773.6 290.8h1v1h-1zM773.6 322.3h1v1h-1zM773.6 353.8h1v1h-1zM773.6 385.2h1v1h-1zM773.6 416.7h1v1h-1zM773.6 448.2h1v1h-1zM805.0 102.0h1v1h-1zM805.0 133.5h1v1h-1zM805.0 164.9h1v1h-1zM805.0 196.4h1v1h-1zM805.0 227.9h1v1h-1zM805.0 259.4h1v1h-1zM805.0 290.8h1v1h-1zM805.0 322.3h1v1h-1zM805.0 353.8h1v1h-1zM805.0 385.2h1v1h-1zM805.0 416.7h1v1h-1zM805.0 448.2h1v1h-1zM836.4 102.0h1v1h-1zM836.4 133.5h1v1h-1zM836.4 164.9h1v1h-1zM836.4 196.4h1v1h-1zM836.4 227.9h1v1h-1zM836.4 259.4h1v1h-1zM836.4 290.8h1v1h-1zM836.4 322.3h1v1h-1zM836.4 353.8h1v1h-1zM836.4 385.2h1v1h-1zM836.4 416.7h1v1h-1zM836.4 448.2h1v1h-1zM867.8 102.0h1v1h-1zM867.8 133.5h1v1h-1zM867.8 164.9h1v1h-1zM867.8 196.4h1v1h-1zM867.8 227.9h1v1h-1zM867.8 259.4h1v1h-1zM867.8 290.8h1v1h-1zM867.8 322.3h1v1h-1zM867.8 353.8h1v1h-1zM867.8 385.2h1v1h-1zM867.8 416.7h1v1h-1zM867.8 448.2h1v1h-1zM899.2 102.0h1v1h-1zM899.2 133.5h1v1h-1zM899.2 164.9h1v1h-1zM899.2 196.4h1v1h-1zM899.2 227.9h1v1h-1zM899.2 259.4h1v1h-1zM899.2 290.8h1v1h-1zM899.2 322.3h1v1h-1zM899.2 353.8h1v1h-1zM899.2 385.2h1v1h-1zM899.2 416.7h1v1h-1zM899.2 448.2h1v1h-1zM930.6 102.0h1v1h-1zM930.6 133.5h1v1h-1zM930.6 164.9h1v1h-1zM930.6 196.4h1v1h-1zM930.6 227.9h1v1h-1zM930.6 259.4h1v1h-1zM930.6 290.8h1v1h-1zM930.6 322.3h1v1h-1zM930.6 353.8h1v1h-1zM930.6 385.2h1v1h-1zM930.6 416.7h1v1h-1zM930.6 448.2h1v1h-1zM962.0 102.0h1v1h-1zM962.0 133.5h1v1h-1zM962.0 164.9h1v1h-1zM962.0 196.4h1v1h-1zM962.0 227.9h1v1h-1zM962.0 259.4h1v1h-1zM962.0 290.8h1v1h-1zM962.0 322.3h1v1h-1zM962.0 353.8h1v1h-1zM962.0 385.2h1v1h-1zM962.0 416.7h1v1h-1zM962.0 448.2h1v1h-1z" fill="#5a6478"/>
<g fill="none" stroke="#c53ac8" stroke-width="1.3">
<polyline points="345.5,166.0 332.5,166.0 332.5,158.8 349.4,158.8"/>
<polyline points="258.8,398.5 258.8,155.4 295.7,155.4 295.7,109.4 304.2,109.4 304.2,152.0 332.5,152.0 332.5,158.8 349.4,158.8 349.4,166.0"/>
<polyline points="258.8,398.5 295.8,398.5 295.8,443.5 304.5,443.5 304.5,399.0 330.4,399.0 330.4,393.0 345.0,393.0"/>
</g>
<g fill="none" stroke="#b9bcc4" stroke-width="1">
<polyline points="261.5,395.0 261.5,158.4 329.0,158.4 329.0,390.0 345.0,390.0"/>
<polyline points="261.5,395.0 345.0,395.0"/>
<polyline points="299.2,395.0 299.2,111.8 301.8,111.8 301.8,441.0 299.2,441.0 299.2,395.0"/>
<polyline points="329.0,161.4 345.0,161.4"/>
</g>
<text transform="translate(259.5,300) rotate(-90)" font-size="9" fill="#9aa0ad" letter-spacing="0.3">DB25MALE</text>
<text transform="translate(340,283) rotate(-90)" font-size="9" fill="#9aa0ad">J1</text>
<g fill="none" stroke="#2ec4d8" stroke-width="1.2">
<polyline points="838.0,232.8 855.6,232.8 855.6,226.8 884.5,226.8 884.5,184.2 892.2,184.2 892.2,229.2 930.0,229.2 930.0,335.8 892.2,335.8 892.2,381.0 884.5,381.0 884.5,338.0 855.6,338.0 855.6,332.0 838.0,332.0"/>
</g>
<g fill="none" stroke="#4b5275" stroke-width="1">
<polyline points="842.0,230.9 926.4,230.9 926.4,334.0 842.0,334.0"/>
<polyline points="858.5,230.9 858.5,334.0"/>
<polyline points="886.9,334.0 886.9,379.0 889.8,379.0 889.8,187.0 886.9,187.0 886.9,334.0"/>
</g>
<text transform="translate(933.5,300.5) rotate(90) scale(-1,1)" font-size="8.5" fill="#5e6580" textLength="37" lengthAdjust="spacingAndGlyphs">DB25FEMALE</text>
<text transform="translate(846.5,287) rotate(90) scale(-1,1)" font-size="8.5" fill="#5e6580">J3</text>
<rect x="345.5" y="142.2" width="496.7" height="266.3" fill="#020e20"/>
<rect x="357.5" y="143.2" width="479.8" height="264" fill="#2f5489"/>
<rect x="358" y="143.7" width="478.8" height="263" fill="none" stroke="#4d7fc8" stroke-width="1" stroke-dasharray="1.5 1.5"/>
<polygon points="394.0,143.5 494.6,143.5 494.6,161.0 394.0,161.0" fill="#020e20"/>
<polygon points="766.0,244.0 816.0,244.0 816.0,323.0 766.0,323.0" fill="#020e20"/>
<polygon points="719.0,248.0 746.0,248.0 746.0,330.0 719.0,330.0" fill="#020e20"/>
<polygon points="506.0,229.0 532.0,229.0 532.0,338.0 506.0,338.0" fill="#020e20"/>
<polygon points="548.0,229.0 569.0,229.0 569.0,345.0 548.0,345.0" fill="#020e20"/>
<polygon points="346.5,143.0 357.5,143.0 357.5,407.0 346.5,407.0" fill="#020e20"/>
<path d="M239.8 102.0h1v1h-1zM239.8 133.5h1v1h-1zM239.8 164.9h1v1h-1zM239.8 196.4h1v1h-1zM239.8 227.9h1v1h-1zM239.8 259.4h1v1h-1zM239.8 290.8h1v1h-1zM239.8 322.3h1v1h-1zM239.8 353.8h1v1h-1zM239.8 385.2h1v1h-1zM239.8 416.7h1v1h-1zM239.8 448.2h1v1h-1zM271.2 102.0h1v1h-1zM271.2 133.5h1v1h-1zM271.2 164.9h1v1h-1zM271.2 196.4h1v1h-1zM271.2 227.9h1v1h-1zM271.2 259.4h1v1h-1zM271.2 290.8h1v1h-1zM271.2 322.3h1v1h-1zM271.2 353.8h1v1h-1zM271.2 385.2h1v1h-1zM271.2 416.7h1v1h-1zM271.2 448.2h1v1h-1zM302.6 102.0h1v1h-1zM302.6 133.5h1v1h-1zM302.6 164.9h1v1h-1zM302.6 196.4h1v1h-1zM302.6 227.9h1v1h-1zM302.6 259.4h1v1h-1zM302.6 290.8h1v1h-1zM302.6 322.3h1v1h-1zM302.6 353.8h1v1h-1zM302.6 385.2h1v1h-1zM302.6 416.7h1v1h-1zM302.6 448.2h1v1h-1zM334.0 102.0h1v1h-1zM334.0 133.5h1v1h-1zM334.0 164.9h1v1h-1zM334.0 196.4h1v1h-1zM334.0 227.9h1v1h-1zM334.0 259.4h1v1h-1zM334.0 290.8h1v1h-1zM334.0 322.3h1v1h-1zM334.0 353.8h1v1h-1zM334.0 385.2h1v1h-1zM334.0 416.7h1v1h-1zM334.0 448.2h1v1h-1zM365.4 102.0h1v1h-1zM365.4 133.5h1v1h-1zM365.4 164.9h1v1h-1zM365.4 196.4h1v1h-1zM365.4 227.9h1v1h-1zM365.4 259.4h1v1h-1zM365.4 290.8h1v1h-1zM365.4 322.3h1v1h-1zM365.4 353.8h1v1h-1zM365.4 385.2h1v1h-1zM365.4 416.7h1v1h-1zM365.4 448.2h1v1h-1zM396.8 102.0h1v1h-1zM396.8 133.5h1v1h-1zM396.8 164.9h1v1h-1zM396.8 196.4h1v1h-1zM396.8 227.9h1v1h-1zM396.8 259.4h1v1h-1zM396.8 290.8h1v1h-1zM396.8 322.3h1v1h-1zM396.8 353.8h1v1h-1zM396.8 385.2h1v1h-1zM396.8 416.7h1v1h-1zM396.8 448.2h1v1h-1zM428.2 102.0h1v1h-1zM428.2 133.5h1v1h-1zM428.2 164.9h1v1h-1zM428.2 196.4h1v1h-1zM428.2 227.9h1v1h-1zM428.2 259.4h1v1h-1zM428.2 290.8h1v1h-1zM428.2 322.3h1v1h-1zM428.2 353.8h1v1h-1zM428.2 385.2h1v1h-1zM428.2 416.7h1v1h-1zM428.2 448.2h1v1h-1zM459.6 102.0h1v1h-1zM459.6 133.5h1v1h-1zM459.6 164.9h1v1h-1zM459.6 196.4h1v1h-1zM459.6 227.9h1v1h-1zM459.6 259.4h1v1h-1zM459.6 290.8h1v1h-1zM459.6 322.3h1v1h-1zM459.6 353.8h1v1h-1zM459.6 385.2h1v1h-1zM459.6 416.7h1v1h-1zM459.6 448.2h1v1h-1zM491.0 102.0h1v1h-1zM491.0 133.5h1v1h-1zM491.0 164.9h1v1h-1zM491.0 196.4h1v1h-1zM491.0 227.9h1v1h-1zM491.0 259.4h1v1h-1zM491.0 290.8h1v1h-1zM491.0 322.3h1v1h-1zM491.0 353.8h1v1h-1zM491.0 385.2h1v1h-1zM491.0 416.7h1v1h-1zM491.0 448.2h1v1h-1zM522.4 102.0h1v1h-1zM522.4 133.5h1v1h-1zM522.4 164.9h1v1h-1zM522.4 196.4h1v1h-1zM522.4 227.9h1v1h-1zM522.4 259.4h1v1h-1zM522.4 290.8h1v1h-1zM522.4 322.3h1v1h-1zM522.4 353.8h1v1h-1zM522.4 385.2h1v1h-1zM522.4 416.7h1v1h-1zM522.4 448.2h1v1h-1zM553.8 102.0h1v1h-1zM553.8 133.5h1v1h-1zM553.8 164.9h1v1h-1zM553.8 196.4h1v1h-1zM553.8 227.9h1v1h-1zM553.8 259.4h1v1h-1zM553.8 290.8h1v1h-1zM553.8 322.3h1v1h-1zM553.8 353.8h1v1h-1zM553.8 385.2h1v1h-1zM553.8 416.7h1v1h-1zM553.8 448.2h1v1h-1zM585.2 102.0h1v1h-1zM585.2 133.5h1v1h-1zM585.2 164.9h1v1h-1zM585.2 196.4h1v1h-1zM585.2 227.9h1v1h-1zM585.2 259.4h1v1h-1zM585.2 290.8h1v1h-1zM585.2 322.3h1v1h-1zM585.2 353.8h1v1h-1zM585.2 385.2h1v1h-1zM585.2 416.7h1v1h-1zM585.2 448.2h1v1h-1zM616.6 102.0h1v1h-1zM616.6 133.5h1v1h-1zM616.6 164.9h1v1h-1zM616.6 196.4h1v1h-1zM616.6 227.9h1v1h-1zM616.6 259.4h1v1h-1zM616.6 290.8h1v1h-1zM616.6 322.3h1v1h-1zM616.6 353.8h1v1h-1zM616.6 385.2h1v1h-1zM616.6 416.7h1v1h-1zM616.6 448.2h1v1h-1zM648.0 102.0h1v1h-1zM648.0 133.5h1v1h-1zM648.0 164.9h1v1h-1zM648.0 196.4h1v1h-1zM648.0 227.9h1v1h-1zM648.0 259.4h1v1h-1zM648.0 290.8h1v1h-1zM648.0 322.3h1v1h-1zM648.0 353.8h1v1h-1zM648.0 385.2h1v1h-1zM648.0 416.7h1v1h-1zM648.0 448.2h1v1h-1zM679.4 102.0h1v1h-1zM679.4 133.5h1v1h-1zM679.4 164.9h1v1h-1zM679.4 196.4h1v1h-1zM679.4 227.9h1v1h-1zM679.4 259.4h1v1h-1zM679.4 290.8h1v1h-1zM679.4 322.3h1v1h-1zM679.4 353.8h1v1h-1zM679.4 385.2h1v1h-1zM679.4 416.7h1v1h-1zM679.4 448.2h1v1h-1zM710.8 102.0h1v1h-1zM710.8 133.5h1v1h-1zM710.8 164.9h1v1h-1zM710.8 196.4h1v1h-1zM710.8 227.9h1v1h-1zM710.8 259.4h1v1h-1zM710.8 290.8h1v1h-1zM710.8 322.3h1v1h-1zM710.8 353.8h1v1h-1zM710.8 385.2h1v1h-1zM710.8 416.7h1v1h-1zM710.8 448.2h1v1h-1zM742.2 102.0h1v1h-1zM742.2 133.5h1v1h-1zM742.2 164.9h1v1h-1zM742.2 196.4h1v1h-1zM742.2 227.9h1v1h-1zM742.2 259.4h1v1h-1zM742.2 290.8h1v1h-1zM742.2 322.3h1v1h-1zM742.2 353.8h1v1h-1zM742.2 385.2h1v1h-1zM742.2 416.7h1v1h-1zM742.2 448.2h1v1h-1zM773.6 102.0h1v1h-1zM773.6 133.5h1v1h-1zM773.6 164.9h1v1h-1zM773.6 196.4h1v1h-1zM773.6 227.9h1v1h-1zM773.6 259.4h1v1h-1zM773.6 290.8h1v1h-1zM773.6 322.3h1v1h-1zM773.6 353.8h1v1h-1zM773.6 385.2h1v1h-1zM773.6 416.7h1v1h-1zM773.6 448.2h1v1h-1zM805.0 102.0h1v1h-1zM805.0 133.5h1v1h-1zM805.0 164.9h1v1h-1zM805.0 196.4h1v1h-1zM805.0 227.9h1v1h-1zM805.0 259.4h1v1h-1zM805.0 290.8h1v1h-1zM805.0 322.3h1v1h-1zM805.0 353.8h1v1h-1zM805.0 385.2h1v1h-1zM805.0 416.7h1v1h-1zM805.0 448.2h1v1h-1zM836.4 102.0h1v1h-1zM836.4 133.5h1v1h-1zM836.4 164.9h1v1h-1zM836.4 196.4h1v1h-1zM836.4 227.9h1v1h-1zM836.4 259.4h1v1h-1zM836.4 290.8h1v1h-1zM836.4 322.3h1v1h-1zM836.4 353.8h1v1h-1zM836.4 385.2h1v1h-1zM836.4 416.7h1v1h-1zM836.4 448.2h1v1h-1zM867.8 102.0h1v1h-1zM867.8 133.5h1v1h-1zM867.8 164.9h1v1h-1zM867.8 196.4h1v1h-1zM867.8 227.9h1v1h-1zM867.8 259.4h1v1h-1zM867.8 290.8h1v1h-1zM867.8 322.3h1v1h-1zM867.8 353.8h1v1h-1zM867.8 385.2h1v1h-1zM867.8 416.7h1v1h-1zM867.8 448.2h1v1h-1zM899.2 102.0h1v1h-1zM899.2 133.5h1v1h-1zM899.2 164.9h1v1h-1zM899.2 196.4h1v1h-1zM899.2 227.9h1v1h-1zM899.2 259.4h1v1h-1zM899.2 290.8h1v1h-1zM899.2 322.3h1v1h-1zM899.2 353.8h1v1h-1zM899.2 385.2h1v1h-1zM899.2 416.7h1v1h-1zM899.2 448.2h1v1h-1zM930.6 102.0h1v1h-1zM930.6 133.5h1v1h-1zM930.6 164.9h1v1h-1zM930.6 196.4h1v1h-1zM930.6 227.9h1v1h-1zM930.6 259.4h1v1h-1zM930.6 290.8h1v1h-1zM930.6 322.3h1v1h-1zM930.6 353.8h1v1h-1zM930.6 385.2h1v1h-1zM930.6 416.7h1v1h-1zM930.6 448.2h1v1h-1zM962.0 102.0h1v1h-1zM962.0 133.5h1v1h-1zM962.0 164.9h1v1h-1zM962.0 196.4h1v1h-1zM962.0 227.9h1v1h-1zM962.0 259.4h1v1h-1zM962.0 290.8h1v1h-1zM962.0 322.3h1v1h-1zM962.0 353.8h1v1h-1zM962.0 385.2h1v1h-1zM962.0 416.7h1v1h-1zM962.0 448.2h1v1h-1z" fill="#8090a8"/>
<g fill="none" stroke-linejoin="round" stroke-linecap="round">
<polyline points="397.0,182.0 382.0,196.5 372.0,196.5" stroke="#020e20" stroke-width="8.5"/>
<polyline points="460.0,182.0 469.5,172.5 491.0,172.5" stroke="#020e20" stroke-width="8.5"/>
<polyline points="539.0,172.6 539.0,236.0" stroke="#020e20" stroke-width="8.5"/>
<polyline points="460.0,203.0 470.5,208.3 477.4,212.0 520.8,212.0 527.7,216.7 527.7,241.8 531.0,245.0 539.0,251.4" stroke="#020e20" stroke-width="8.5"/>
<polyline points="460.0,223.0 502.5,223.0 513.5,234.0 514.7,263.0 519.0,266.3 539.0,267.0" stroke="#020e20" stroke-width="8.5"/>
<polyline points="460.0,243.5 482.0,243.5 491.0,251.4" stroke="#020e20" stroke-width="8.5"/>
<polyline points="460.0,267.0 460.0,275.4 463.0,281.5 491.0,283.0" stroke="#020e20" stroke-width="8.5"/>
<polyline points="617.0,172.6 617.0,157.4 640.5,157.4" stroke="#020e20" stroke-width="8.5"/>
<polyline points="640.5,180.6 640.5,208.0 628.0,220.0 625.6,236.0" stroke="#020e20" stroke-width="8.5"/>
<polyline points="695.6,212.4 821.0,212.4 832.0,223.8 832.0,252.0" stroke="#020e20" stroke-width="8.5"/>
<polyline points="575.0,186.0 562.0,200.0 562.0,240.0 571.0,246.0 577.6,251.4" stroke="#020e20" stroke-width="8.5"/>
<polyline points="587.5,251.4 595.0,251.4 601.2,259.8 601.2,271.3 605.8,275.0 648.3,275.0" stroke="#020e20" stroke-width="8.5"/>
<polyline points="648.3,306.2 648.3,322.0 640.0,330.0 625.6,329.7" stroke="#020e20" stroke-width="8.5"/>
<polyline points="627.7,362.0 646.2,362.0 648.3,377.0" stroke="#020e20" stroke-width="8.5"/>
<polyline points="491.0,314.5 512.0,314.5 515.0,318.0 515.0,372.0 520.0,377.3 563.0,377.3 577.6,392.0" stroke="#020e20" stroke-width="8.5"/>
<polyline points="539.0,329.7 538.3,365.0 543.0,369.5 562.0,369.5 577.6,361.9" stroke="#020e20" stroke-width="8.5"/>
<polyline points="550.0,290.0 553.3,300.0 553.3,338.0 560.0,345.5 566.2,345.5" stroke="#020e20" stroke-width="8.5"/>
<polyline points="755.0,268.0 775.0,268.0 790.0,283.0 818.0,283.0" stroke="#020e20" stroke-width="8.5"/>
<polyline points="755.0,283.3 775.0,283.3 785.0,299.0 818.0,299.0" stroke="#020e20" stroke-width="8.5"/>
<polyline points="755.0,298.6 770.0,318.0 818.0,318.0" stroke="#020e20" stroke-width="8.5"/>
<polyline points="755.0,252.1 800.0,252.1 812.0,264.0 818.0,264.0" stroke="#020e20" stroke-width="8.5"/>
<polyline points="711.0,275.0 721.0,265.0 730.0,250.0 745.0,237.0 755.0,236.8" stroke="#020e20" stroke-width="8.5"/>
<polyline points="711.0,306.0 734.0,282.0 734.0,270.0 746.0,258.0 755.0,252.0" stroke="#020e20" stroke-width="8.5"/>
<polyline points="711.0,337.0 740.0,308.0 740.0,295.0 752.0,275.0 755.0,267.4" stroke="#020e20" stroke-width="8.5"/>
<polyline points="711.0,377.0 720.0,360.0 748.0,333.0 748.0,310.0 755.0,298.6" stroke="#020e20" stroke-width="8.5"/>
<polyline points="539.0,236.0 550.0,247.0 550.0,290.0 556.0,296.0" stroke="#020e20" stroke-width="8.5"/>
<polyline points="508.0,345.0 508.0,379.0 513.0,384.0 560.0,384.0 568.0,392.0 602.6,392.0" stroke="#020e20" stroke-width="8.5"/>
<polyline points="648.3,338.0 636.7,351.7 606.0,351.7 602.6,362.0" stroke="#020e20" stroke-width="8.5"/>
<polyline points="625.6,345.0 633.0,345.0 645.0,333.0" stroke="#020e20" stroke-width="8.5"/>
<polyline points="397.0,182.0 382.0,196.5 372.0,196.5" stroke="#4a80cf" stroke-width="3.2"/>
<polyline points="460.0,182.0 469.5,172.5 491.0,172.5" stroke="#4a80cf" stroke-width="3.2"/>
<polyline points="539.0,172.6 539.0,236.0" stroke="#4a80cf" stroke-width="3.2"/>
<polyline points="460.0,203.0 470.5,208.3 477.4,212.0 520.8,212.0 527.7,216.7 527.7,241.8 531.0,245.0 539.0,251.4" stroke="#4a80cf" stroke-width="3.2"/>
<polyline points="460.0,223.0 502.5,223.0 513.5,234.0 514.7,263.0 519.0,266.3 539.0,267.0" stroke="#4a80cf" stroke-width="3.2"/>
<polyline points="460.0,243.5 482.0,243.5 491.0,251.4" stroke="#4a80cf" stroke-width="3.2"/>
<polyline points="460.0,267.0 460.0,275.4 463.0,281.5 491.0,283.0" stroke="#4a80cf" stroke-width="3.2"/>
<polyline points="617.0,172.6 617.0,157.4 640.5,157.4" stroke="#4a80cf" stroke-width="3.2"/>
<polyline points="640.5,180.6 640.5,208.0 628.0,220.0 625.6,236.0" stroke="#4a80cf" stroke-width="3.2"/>
<polyline points="695.6,212.4 821.0,212.4 832.0,223.8 832.0,252.0" stroke="#4a80cf" stroke-width="3.2"/>
<polyline points="575.0,186.0 562.0,200.0 562.0,240.0 571.0,246.0 577.6,251.4" stroke="#4a80cf" stroke-width="3.2"/>
<polyline points="587.5,251.4 595.0,251.4 601.2,259.8 601.2,271.3 605.8,275.0 648.3,275.0" stroke="#4a80cf" stroke-width="3.2"/>
<polyline points="648.3,306.2 648.3,322.0 640.0,330.0 625.6,329.7" stroke="#4a80cf" stroke-width="3.2"/>
<polyline points="627.7,362.0 646.2,362.0 648.3,377.0" stroke="#4a80cf" stroke-width="3.2"/>
<polyline points="491.0,314.5 512.0,314.5 515.0,318.0 515.0,372.0 520.0,377.3 563.0,377.3 577.6,392.0" stroke="#4a80cf" stroke-width="3.2"/>
<polyline points="539.0,329.7 538.3,365.0 543.0,369.5 562.0,369.5 577.6,361.9" stroke="#4a80cf" stroke-width="3.2"/>
<polyline points="550.0,290.0 553.3,300.0 553.3,338.0 560.0,345.5 566.2,345.5" stroke="#4a80cf" stroke-width="3.2"/>
<polyline points="755.0,268.0 775.0,268.0 790.0,283.0 818.0,283.0" stroke="#4a80cf" stroke-width="3.2"/>
<polyline points="755.0,283.3 775.0,283.3 785.0,299.0 818.0,299.0" stroke="#4a80cf" stroke-width="3.2"/>
<polyline points="755.0,298.6 770.0,318.0 818.0,318.0" stroke="#4a80cf" stroke-width="3.2"/>
<polyline points="755.0,252.1 800.0,252.1 812.0,264.0 818.0,264.0" stroke="#4a80cf" stroke-width="3.2"/>
<polyline points="711.0,275.0 721.0,265.0 730.0,250.0 745.0,237.0 755.0,236.8" stroke="#4a80cf" stroke-width="3.2"/>
<polyline points="711.0,306.0 734.0,282.0 734.0,270.0 746.0,258.0 755.0,252.0" stroke="#4a80cf" stroke-width="3.2"/>
<polyline points="711.0,337.0 740.0,308.0 740.0,295.0 752.0,275.0 755.0,267.4" stroke="#4a80cf" stroke-width="3.2"/>
<polyline points="711.0,377.0 720.0,360.0 748.0,333.0 748.0,310.0 755.0,298.6" stroke="#4a80cf" stroke-width="3.2"/>
<polyline points="539.0,236.0 550.0,247.0 550.0,290.0 556.0,296.0" stroke="#4a80cf" stroke-width="3.2"/>
<polyline points="508.0,345.0 508.0,379.0 513.0,384.0 560.0,384.0 568.0,392.0 602.6,392.0" stroke="#4a80cf" stroke-width="3.2"/>
<polyline points="648.3,338.0 636.7,351.7 606.0,351.7 602.6,362.0" stroke="#4a80cf" stroke-width="3.2"/>
<polyline points="625.6,345.0 633.0,345.0 645.0,333.0" stroke="#4a80cf" stroke-width="3.2"/>
</g>
<rect x="345.5" y="142.2" width="496.7" height="266.3" fill="none" stroke="#cfcfcf" stroke-width="1.4"/>
<rect x="347.1" y="166" width="22.2" height="222" fill="#c62c2a"/>
<rect x="346" y="165.5" width="26.5" height="221" fill="none" stroke="#d8d0a0" stroke-width="0.8"/>
<rect x="345.8" y="165.3" width="27.5" height="223.2" fill="none" stroke="#c53ac8" stroke-width="0.9"/>
<rect x="347.5" y="179.0" width="21.5" height="5" fill="#1d3566"/>
<rect x="347.5" y="179.3" width="21.5" height="1" fill="#4a80cf"/>
<rect x="347.5" y="182.7" width="21.5" height="1" fill="#4a80cf"/>
<rect x="369.3" y="179.0" width="3" height="5" fill="#0a1426"/>
<rect x="347.5" y="196.0" width="21.5" height="5" fill="#1d3566"/>
<rect x="347.5" y="196.3" width="21.5" height="1" fill="#4a80cf"/>
<rect x="347.5" y="199.7" width="21.5" height="1" fill="#4a80cf"/>
<rect x="369.3" y="196.0" width="3" height="5" fill="#0a1426"/>
<rect x="347.5" y="213.0" width="21.5" height="5" fill="#1d3566"/>
<rect x="347.5" y="213.3" width="21.5" height="1" fill="#4a80cf"/>
<rect x="347.5" y="216.7" width="21.5" height="1" fill="#4a80cf"/>
<rect x="369.3" y="213.0" width="3" height="5" fill="#0a1426"/>
<rect x="347.5" y="230.5" width="21.5" height="5" fill="#1d3566"/>
<rect x="347.5" y="230.8" width="21.5" height="1" fill="#4a80cf"/>
<rect x="347.5" y="234.2" width="21.5" height="1" fill="#4a80cf"/>
<rect x="369.3" y="230.5" width="3" height="5" fill="#0a1426"/>
<rect x="347.5" y="247.5" width="21.5" height="5" fill="#1d3566"/>
<rect x="347.5" y="247.8" width="21.5" height="1" fill="#4a80cf"/>
<rect x="347.5" y="251.2" width="21.5" height="1" fill="#4a80cf"/>
<rect x="369.3" y="247.5" width="3" height="5" fill="#0a1426"/>
<rect x="347.5" y="264.5" width="21.5" height="5" fill="#1d3566"/>
<rect x="347.5" y="264.8" width="21.5" height="1" fill="#4a80cf"/>
<rect x="347.5" y="268.2" width="21.5" height="1" fill="#4a80cf"/>
<rect x="369.3" y="264.5" width="3" height="5" fill="#0a1426"/>
<rect x="347.5" y="282.0" width="21.5" height="5" fill="#1d3566"/>
<rect x="347.5" y="282.3" width="21.5" height="1" fill="#4a80cf"/>
<rect x="347.5" y="285.7" width="21.5" height="1" fill="#4a80cf"/>
<rect x="369.3" y="282.0" width="3" height="5" fill="#0a1426"/>
<rect x="347.5" y="299.0" width="21.5" height="5" fill="#1d3566"/>
<rect x="347.5" y="299.3" width="21.5" height="1" fill="#4a80cf"/>
<rect x="347.5" y="302.7" width="21.5" height="1" fill="#4a80cf"/>
<rect x="369.3" y="299.0" width="3" height="5" fill="#0a1426"/>
<rect x="347.5" y="316.0" width="21.5" height="5" fill="#1d3566"/>
<rect x="347.5" y="316.3" width="21.5" height="1" fill="#4a80cf"/>
<rect x="347.5" y="319.7" width="21.5" height="1" fill="#4a80cf"/>
<rect x="369.3" y="316.0" width="3" height="5" fill="#0a1426"/>
<rect x="347.5" y="333.5" width="21.5" height="5" fill="#1d3566"/>
<rect x="347.5" y="333.8" width="21.5" height="1" fill="#4a80cf"/>
<rect x="347.5" y="337.2" width="21.5" height="1" fill="#4a80cf"/>
<rect x="369.3" y="333.5" width="3" height="5" fill="#0a1426"/>
<rect x="347.5" y="350.5" width="21.5" height="5" fill="#1d3566"/>
<rect x="347.5" y="350.8" width="21.5" height="1" fill="#4a80cf"/>
<rect x="347.5" y="354.2" width="21.5" height="1" fill="#4a80cf"/>
<rect x="369.3" y="350.5" width="3" height="5" fill="#0a1426"/>
<rect x="347.5" y="367.5" width="21.5" height="5" fill="#1d3566"/>
<rect x="347.5" y="367.8" width="21.5" height="1" fill="#4a80cf"/>
<rect x="347.5" y="371.2" width="21.5" height="1" fill="#4a80cf"/>
<rect x="369.3" y="367.5" width="3" height="5" fill="#0a1426"/>
<text x="358.2" y="172.7" font-size="6.5" fill="#f0d0d0" text-anchor="middle">1</text>
<text x="358.2" y="179.7" font-size="6" fill="#f4dada" text-anchor="middle">X</text>
<text x="358.2" y="189.8" font-size="6.5" fill="#f0d0d0" text-anchor="middle">2</text>
<text x="348" y="196.9" font-size="5" fill="#f4e4e4" textLength="20.5" lengthAdjust="spacingAndGlyphs">TDI-TCK-D0</text>
<text x="358.2" y="206.8" font-size="6.5" fill="#f0d0d0" text-anchor="middle">3</text>
<text x="348" y="214.0" font-size="5" fill="#f4e4e4" textLength="20.5" lengthAdjust="spacingAndGlyphs">CLK-D1</text>
<text x="358.2" y="223.8" font-size="6.5" fill="#f0d0d0" text-anchor="middle">4</text>
<text x="348" y="231.0" font-size="5" fill="#f4e4e4" textLength="20.5" lengthAdjust="spacingAndGlyphs">TMS-PROG-D4</text>
<text x="358.2" y="240.9" font-size="6.5" fill="#f0d0d0" text-anchor="middle">5</text>
<text x="348" y="248.1" font-size="5" fill="#f4e4e4" textLength="20.5" lengthAdjust="spacingAndGlyphs">CTRL-D7</text>
<text x="358.2" y="257.9" font-size="6.5" fill="#f0d0d0" text-anchor="middle">6</text>
<text x="348" y="265.1" font-size="5" fill="#f4e4e4" textLength="20.5" lengthAdjust="spacingAndGlyphs">TDO-PROG-D6</text>
<text x="358.2" y="275.0" font-size="6.5" fill="#f0d0d0" text-anchor="middle">7</text>
<text x="358.2" y="282.0" font-size="6" fill="#f4dada" text-anchor="middle">X</text>
<text x="358.2" y="292.1" font-size="6.5" fill="#f0d0d0" text-anchor="middle">8</text>
<text x="358.2" y="299.1" font-size="6" fill="#f4dada" text-anchor="middle">X</text>
<text x="358.2" y="309.1" font-size="6.5" fill="#f0d0d0" text-anchor="middle">9</text>
<text x="358.2" y="316.1" font-size="6" fill="#f4dada" text-anchor="middle">X</text>
<text x="358.2" y="326.1" font-size="6.5" fill="#f0d0d0" text-anchor="middle">10</text>
<text x="358.2" y="333.1" font-size="6" fill="#f4dada" text-anchor="middle">X</text>
<text x="358.2" y="343.2" font-size="6.5" fill="#f0d0d0" text-anchor="middle">11</text>
<text x="348" y="350.4" font-size="5" fill="#f4e4e4" textLength="20.5" lengthAdjust="spacingAndGlyphs">TDO-DONE</text>
<text x="358.2" y="360.2" font-size="6.5" fill="#f0d0d0" text-anchor="middle">12</text>
<text x="348" y="367.4" font-size="5" fill="#f4e4e4" textLength="20.5" lengthAdjust="spacingAndGlyphs">TCK-CCL</text>
<text x="358.2" y="377.3" font-size="6.5" fill="#f0d0d0" text-anchor="middle">13</text>
<text x="348" y="384.5" font-size="5" fill="#f4e4e4" textLength="20.5" lengthAdjust="spacingAndGlyphs">TDO-DONE</text>
<rect x="818.8" y="250" width="21.8" height="72.6" fill="#c62c2a"/>
<rect x="817" y="244" width="24.5" height="80.3" fill="none" stroke="#d8d0a0" stroke-width="0.8"/>
<rect x="818.8" y="244.5" width="21.8" height="5.5" fill="#4a80cf"/>
<rect x="819" y="265.0" width="21.5" height="2" fill="#4a80cf"/>
<rect x="819" y="282.5" width="21.5" height="2" fill="#4a80cf"/>
<rect x="819" y="299.5" width="21.5" height="2" fill="#4a80cf"/>
<text x="829.7" y="257.0" font-size="5.5" fill="#f4dada" text-anchor="middle">6</text>
<text x="829.7" y="263.0" font-size="4.8" fill="#f4dada" text-anchor="middle">GND</text>
<text x="829.7" y="274.2" font-size="5.5" fill="#f4dada" text-anchor="middle">7</text>
<text x="829.7" y="280.2" font-size="4.8" fill="#f4dada" text-anchor="middle">GND</text>
<text x="829.7" y="291.4" font-size="5.5" fill="#f4dada" text-anchor="middle">8</text>
<text x="829.7" y="297.4" font-size="4.8" fill="#f4dada" text-anchor="middle">GND</text>
<text x="829.7" y="308.6" font-size="5.5" fill="#f4dada" text-anchor="middle">9</text>
<text x="829.7" y="314.6" font-size="4.8" fill="#f4dada" text-anchor="middle">GND</text>
<rect x="818.8" y="316" width="21.8" height="6" fill="#4a80cf"/>
<text x="829.7" y="321.5" font-size="4" fill="#e8eef8" text-anchor="middle">TMS-PROG</text>
<text transform="translate(352.5,156) rotate(-90)" font-size="5" fill="#d8d8d8" textLength="25" lengthAdjust="spacingAndGlyphs">PCB Edge</text>
<text transform="translate(839.5,229.5) rotate(-90)" font-size="5" fill="#d8d8d8" textLength="22" lengthAdjust="spacingAndGlyphs">PCB Edge</text>
<text transform="translate(368,160) rotate(-90)" font-size="9" fill="#e6dfae">J1</text>
<g fill="none" stroke-linejoin="round" stroke-linecap="round">
<polyline points="369.0,189.0 390.7,169.0 418.5,169.0 424.8,175.0 424.8,290.0 417.7,298.4 397.4,298.4" stroke="#c62c2a" stroke-width="3.2"/>
<polyline points="369.0,208.0 384.4,208.0 390.0,203.0 397.4,203.0" stroke="#c62c2a" stroke-width="3.2"/>
<polyline points="369.0,224.4 390.0,224.4 397.4,222.8" stroke="#c62c2a" stroke-width="3.2"/>
<polyline points="369.0,243.5 383.0,243.5 393.0,262.0 397.4,267.0" stroke="#c62c2a" stroke-width="3.2"/>
<polyline points="397.4,243.7 407.0,243.7 414.0,250.0 414.0,271.0 407.0,278.0 392.0,278.0 369.0,256.0" stroke="#c62c2a" stroke-width="3.2"/>
<polyline points="369.0,290.0 381.0,290.0 385.0,294.0 385.0,357.0 381.0,362.0 369.0,362.0" stroke="#c62c2a" stroke-width="3.2"/>
<polyline points="369.0,342.0 385.0,342.0" stroke="#c62c2a" stroke-width="3.2"/>
<polyline points="369.0,376.0 391.0,376.0 397.4,369.5" stroke="#c62c2a" stroke-width="3.2"/>
<polyline points="460.0,369.5 541.6,369.5 566.2,345.5" stroke="#c62c2a" stroke-width="3.0"/>
<polyline points="554.5,172.6 589.5,172.6 605.0,157.0 625.2,157.0 633.5,165.0 633.5,178.0 640.5,180.6" stroke="#c62c2a" stroke-width="4.2"/>
<polyline points="617.0,172.6 613.3,185.3 599.6,185.3 597.0,190.0 597.0,206.4 590.0,208.5 490.0,208.3 475.8,220.5 475.8,267.5" stroke="#c62c2a" stroke-width="3.4"/>
<polyline points="805.7,228.1 827.5,228.1 832.0,233.0 832.0,253.0" stroke="#c62c2a" stroke-width="3.6"/>
</g>
<circle cx="397.4" cy="182.0" r="7.8" fill="#020e20"/>
<circle cx="397.4" cy="182.0" r="5.9" fill="#e2b425"/>
<circle cx="397.4" cy="182.0" r="4.7" fill="none" stroke="#a07c10" stroke-width="0.6"/>
<circle cx="397.4" cy="182.0" r="2.4" fill="#0a0f1c"/>
<circle cx="460.0" cy="182.0" r="7.8" fill="#020e20"/>
<circle cx="460.0" cy="182.0" r="5.9" fill="#e2b425"/>
<circle cx="460.0" cy="182.0" r="4.7" fill="none" stroke="#a07c10" stroke-width="0.6"/>
<circle cx="460.0" cy="182.0" r="2.4" fill="#0a0f1c"/>
<circle cx="397.4" cy="203.0" r="7.8" fill="#020e20"/>
<circle cx="397.4" cy="203.0" r="5.9" fill="#e2b425"/>
<circle cx="397.4" cy="203.0" r="4.7" fill="none" stroke="#a07c10" stroke-width="0.6"/>
<circle cx="397.4" cy="203.0" r="2.4" fill="#0a0f1c"/>
<circle cx="460.0" cy="203.0" r="7.8" fill="#020e20"/>
<circle cx="460.0" cy="203.0" r="5.9" fill="#e2b425"/>
<circle cx="460.0" cy="203.0" r="4.7" fill="none" stroke="#a07c10" stroke-width="0.6"/>
<circle cx="460.0" cy="203.0" r="2.4" fill="#0a0f1c"/>
<circle cx="397.4" cy="222.8" r="7.8" fill="#020e20"/>
<circle cx="397.4" cy="222.8" r="5.9" fill="#e2b425"/>
<circle cx="397.4" cy="222.8" r="4.7" fill="none" stroke="#a07c10" stroke-width="0.6"/>
<circle cx="397.4" cy="222.8" r="2.4" fill="#0a0f1c"/>
<circle cx="460.0" cy="222.8" r="7.8" fill="#020e20"/>
<circle cx="460.0" cy="222.8" r="5.9" fill="#e2b425"/>
<circle cx="460.0" cy="222.8" r="4.7" fill="none" stroke="#a07c10" stroke-width="0.6"/>
<circle cx="460.0" cy="222.8" r="2.4" fill="#0a0f1c"/>
<circle cx="397.4" cy="243.7" r="7.8" fill="#020e20"/>
<circle cx="397.4" cy="243.7" r="5.9" fill="#e2b425"/>
<circle cx="397.4" cy="243.7" r="4.7" fill="none" stroke="#a07c10" stroke-width="0.6"/>
<circle cx="397.4" cy="243.7" r="2.4" fill="#0a0f1c"/>
<circle cx="460.0" cy="243.7" r="7.8" fill="#020e20"/>
<circle cx="460.0" cy="243.7" r="5.9" fill="#e2b425"/>
<circle cx="460.0" cy="243.7" r="4.7" fill="none" stroke="#a07c10" stroke-width="0.6"/>
<circle cx="460.0" cy="243.7" r="2.4" fill="#0a0f1c"/>
<circle cx="397.4" cy="267.0" r="7.8" fill="#020e20"/>
<circle cx="397.4" cy="267.0" r="5.9" fill="#e2b425"/>
<circle cx="397.4" cy="267.0" r="4.7" fill="none" stroke="#a07c10" stroke-width="0.6"/>
<circle cx="397.4" cy="267.0" r="2.4" fill="#0a0f1c"/>
<circle cx="460.0" cy="267.0" r="7.8" fill="#020e20"/>
<circle cx="460.0" cy="267.0" r="5.9" fill="#e2b425"/>
<circle cx="460.0" cy="267.0" r="4.7" fill="none" stroke="#a07c10" stroke-width="0.6"/>
<circle cx="460.0" cy="267.0" r="2.4" fill="#0a0f1c"/>
<circle cx="397.4" cy="298.4" r="7.8" fill="#020e20"/>
<circle cx="397.4" cy="298.4" r="5.9" fill="#e2b425"/>
<circle cx="397.4" cy="298.4" r="4.7" fill="none" stroke="#a07c10" stroke-width="0.6"/>
<circle cx="397.4" cy="298.4" r="2.4" fill="#0a0f1c"/>
<circle cx="460.0" cy="298.4" r="7.8" fill="#020e20"/>
<circle cx="460.0" cy="298.4" r="5.9" fill="#e2b425"/>
<circle cx="460.0" cy="298.4" r="4.7" fill="none" stroke="#a07c10" stroke-width="0.6"/>
<circle cx="460.0" cy="298.4" r="2.4" fill="#0a0f1c"/>
<circle cx="397.4" cy="369.5" r="7.8" fill="#020e20"/>
<circle cx="397.4" cy="369.5" r="5.9" fill="#e2b425"/>
<circle cx="397.4" cy="369.5" r="4.7" fill="none" stroke="#a07c10" stroke-width="0.6"/>
<circle cx="397.4" cy="369.5" r="2.4" fill="#0a0f1c"/>
<circle cx="460.0" cy="369.5" r="7.8" fill="#020e20"/>
<circle cx="460.0" cy="369.5" r="5.9" fill="#e2b425"/>
<circle cx="460.0" cy="369.5" r="4.7" fill="none" stroke="#a07c10" stroke-width="0.6"/>
<circle cx="460.0" cy="369.5" r="2.4" fill="#0a0f1c"/>
<circle cx="648.3" cy="275.0" r="7.8" fill="#020e20"/>
<circle cx="648.3" cy="275.0" r="5.9" fill="#e2b425"/>
<circle cx="648.3" cy="275.0" r="4.7" fill="none" stroke="#a07c10" stroke-width="0.6"/>
<circle cx="648.3" cy="275.0" r="2.4" fill="#0a0f1c"/>
<circle cx="710.9" cy="275.0" r="7.8" fill="#020e20"/>
<circle cx="710.9" cy="275.0" r="5.9" fill="#e2b425"/>
<circle cx="710.9" cy="275.0" r="4.7" fill="none" stroke="#a07c10" stroke-width="0.6"/>
<circle cx="710.9" cy="275.0" r="2.4" fill="#0a0f1c"/>
<circle cx="648.3" cy="306.2" r="7.8" fill="#020e20"/>
<circle cx="648.3" cy="306.2" r="5.9" fill="#e2b425"/>
<circle cx="648.3" cy="306.2" r="4.7" fill="none" stroke="#a07c10" stroke-width="0.6"/>
<circle cx="648.3" cy="306.2" r="2.4" fill="#0a0f1c"/>
<circle cx="710.9" cy="306.2" r="7.8" fill="#020e20"/>
<circle cx="710.9" cy="306.2" r="5.9" fill="#e2b425"/>
<circle cx="710.9" cy="306.2" r="4.7" fill="none" stroke="#a07c10" stroke-width="0.6"/>
<circle cx="710.9" cy="306.2" r="2.4" fill="#0a0f1c"/>
<circle cx="648.3" cy="337.4" r="7.8" fill="#020e20"/>
<circle cx="648.3" cy="337.4" r="5.9" fill="#e2b425"/>
<circle cx="648.3" cy="337.4" r="4.7" fill="none" stroke="#a07c10" stroke-width="0.6"/>
<circle cx="648.3" cy="337.4" r="2.4" fill="#0a0f1c"/>
<circle cx="710.9" cy="337.4" r="7.8" fill="#020e20"/>
<circle cx="710.9" cy="337.4" r="5.9" fill="#e2b425"/>
<circle cx="710.9" cy="337.4" r="4.7" fill="none" stroke="#a07c10" stroke-width="0.6"/>
<circle cx="710.9" cy="337.4" r="2.4" fill="#0a0f1c"/>
<circle cx="648.3" cy="377.1" r="7.8" fill="#020e20"/>
<circle cx="648.3" cy="377.1" r="5.9" fill="#e2b425"/>
<circle cx="648.3" cy="377.1" r="4.7" fill="none" stroke="#a07c10" stroke-width="0.6"/>
<circle cx="648.3" cy="377.1" r="2.4" fill="#0a0f1c"/>
<circle cx="710.9" cy="377.1" r="7.8" fill="#020e20"/>
<circle cx="710.9" cy="377.1" r="5.9" fill="#e2b425"/>
<circle cx="710.9" cy="377.1" r="4.7" fill="none" stroke="#a07c10" stroke-width="0.6"/>
<circle cx="710.9" cy="377.1" r="2.4" fill="#0a0f1c"/>
<circle cx="642.2" cy="180.6" r="7.8" fill="#020e20"/>
<circle cx="642.2" cy="180.6" r="5.9" fill="#e2b425"/>
<circle cx="642.2" cy="180.6" r="4.7" fill="none" stroke="#a07c10" stroke-width="0.6"/>
<circle cx="642.2" cy="180.6" r="2.4" fill="#0a0f1c"/>
<circle cx="703.2" cy="180.6" r="7.8" fill="#020e20"/>
<circle cx="703.2" cy="180.6" r="5.9" fill="#e2b425"/>
<circle cx="703.2" cy="180.6" r="4.7" fill="none" stroke="#a07c10" stroke-width="0.6"/>
<circle cx="703.2" cy="180.6" r="2.4" fill="#0a0f1c"/>
<circle cx="554.5" cy="172.6" r="7.8" fill="#020e20"/>
<circle cx="554.5" cy="172.6" r="5.9" fill="#e2b425"/>
<circle cx="554.5" cy="172.6" r="4.7" fill="none" stroke="#a07c10" stroke-width="0.6"/>
<circle cx="554.5" cy="172.6" r="2.4" fill="#0a0f1c"/>
<circle cx="617.2" cy="172.6" r="7.8" fill="#020e20"/>
<circle cx="617.2" cy="172.6" r="5.9" fill="#e2b425"/>
<circle cx="617.2" cy="172.6" r="4.7" fill="none" stroke="#a07c10" stroke-width="0.6"/>
<circle cx="617.2" cy="172.6" r="2.4" fill="#0a0f1c"/>
<circle cx="491.3" cy="172.6" r="7.8" fill="#020e20"/>
<circle cx="491.3" cy="172.6" r="5.9" fill="#e2b425"/>
<circle cx="491.3" cy="172.6" r="4.7" fill="none" stroke="#a07c10" stroke-width="0.6"/>
<circle cx="491.3" cy="172.6" r="2.4" fill="#0a0f1c"/>
<rect x="531.5" y="165.2" width="14.8" height="14.8" fill="#020e20"/>
<rect x="533.3" y="167.0" width="11.2" height="11.2" fill="#e2b425"/>
<rect x="534.3" y="168.0" width="9.2" height="9.2" fill="none" stroke="#9a7a10" stroke-width="0.6"/>
<circle cx="538.9" cy="172.6" r="2.4" fill="#0a0f1c"/>
<circle cx="539.0" cy="196.8" r="7.8" fill="#020e20"/>
<circle cx="539.0" cy="196.8" r="5.9" fill="#e2b425"/>
<circle cx="539.0" cy="196.8" r="4.7" fill="none" stroke="#a07c10" stroke-width="0.6"/>
<circle cx="539.0" cy="196.8" r="2.4" fill="#0a0f1c"/>
<circle cx="616.0" cy="196.8" r="7.8" fill="#020e20"/>
<circle cx="616.0" cy="196.8" r="5.9" fill="#e2b425"/>
<circle cx="616.0" cy="196.8" r="4.7" fill="none" stroke="#a07c10" stroke-width="0.6"/>
<circle cx="616.0" cy="196.8" r="2.4" fill="#0a0f1c"/>
<circle cx="642.2" cy="157.3" r="7.8" fill="#020e20"/>
<circle cx="642.2" cy="157.3" r="5.9" fill="#e2b425"/>
<circle cx="642.2" cy="157.3" r="4.7" fill="none" stroke="#a07c10" stroke-width="0.6"/>
<circle cx="642.2" cy="157.3" r="2.4" fill="#0a0f1c"/>
<circle cx="671.6" cy="157.3" r="7.8" fill="#020e20"/>
<circle cx="671.6" cy="157.3" r="5.9" fill="#e2b425"/>
<circle cx="671.6" cy="157.3" r="4.7" fill="none" stroke="#a07c10" stroke-width="0.6"/>
<circle cx="671.6" cy="157.3" r="2.4" fill="#0a0f1c"/>
<circle cx="648.3" cy="212.4" r="7.8" fill="#020e20"/>
<circle cx="648.3" cy="212.4" r="5.9" fill="#e2b425"/>
<circle cx="648.3" cy="212.4" r="4.7" fill="none" stroke="#a07c10" stroke-width="0.6"/>
<circle cx="648.3" cy="212.4" r="2.4" fill="#0a0f1c"/>
<rect x="688.2" y="205.0" width="14.8" height="14.8" fill="#020e20"/>
<rect x="690.0" y="206.8" width="11.2" height="11.2" fill="#e2b425"/>
<rect x="691.0" y="207.8" width="9.2" height="9.2" fill="none" stroke="#9a7a10" stroke-width="0.6"/>
<circle cx="695.6" cy="212.4" r="2.4" fill="#0a0f1c"/>
<rect x="747.7" y="213.7" width="14.8" height="14.8" fill="#020e20"/>
<rect x="749.5" y="215.5" width="11.2" height="11.2" fill="#e2b425"/>
<rect x="750.5" y="216.5" width="9.2" height="9.2" fill="none" stroke="#9a7a10" stroke-width="0.6"/>
<circle cx="755.1" cy="221.1" r="2.2" fill="#0a0f1c"/>
<circle cx="755.1" cy="236.5" r="7.5" fill="#020e20"/>
<circle cx="755.1" cy="236.5" r="5.6" fill="#e2b425"/>
<circle cx="755.1" cy="236.5" r="4.4" fill="none" stroke="#a07c10" stroke-width="0.6"/>
<circle cx="755.1" cy="236.5" r="2.2" fill="#0a0f1c"/>
<circle cx="755.1" cy="252.0" r="7.5" fill="#020e20"/>
<circle cx="755.1" cy="252.0" r="5.6" fill="#e2b425"/>
<circle cx="755.1" cy="252.0" r="4.4" fill="none" stroke="#a07c10" stroke-width="0.6"/>
<circle cx="755.1" cy="252.0" r="2.2" fill="#0a0f1c"/>
<circle cx="755.1" cy="267.4" r="7.5" fill="#020e20"/>
<circle cx="755.1" cy="267.4" r="5.6" fill="#e2b425"/>
<circle cx="755.1" cy="267.4" r="4.4" fill="none" stroke="#a07c10" stroke-width="0.6"/>
<circle cx="755.1" cy="267.4" r="2.2" fill="#0a0f1c"/>
<circle cx="755.1" cy="282.9" r="7.5" fill="#020e20"/>
<circle cx="755.1" cy="282.9" r="5.6" fill="#e2b425"/>
<circle cx="755.1" cy="282.9" r="4.4" fill="none" stroke="#a07c10" stroke-width="0.6"/>
<circle cx="755.1" cy="282.9" r="2.2" fill="#0a0f1c"/>
<circle cx="755.1" cy="298.4" r="7.5" fill="#020e20"/>
<circle cx="755.1" cy="298.4" r="5.6" fill="#e2b425"/>
<circle cx="755.1" cy="298.4" r="4.4" fill="none" stroke="#a07c10" stroke-width="0.6"/>
<circle cx="755.1" cy="298.4" r="2.2" fill="#0a0f1c"/>
<ellipse cx="491.4" cy="235.3" rx="9.8" ry="7.8" fill="#020e20"/>
<rect x="483.4" y="229.3" width="16" height="12" fill="#f6ecc8"/>
<circle cx="491.4" cy="235.3" r="2.2" fill="#0a0f1c"/>
<ellipse cx="539.0" cy="235.3" rx="9.8" ry="7.8" fill="#020e20"/>
<ellipse cx="539.0" cy="235.3" rx="8" ry="6" fill="#f6ecc8"/>
<ellipse cx="539.0" cy="235.3" rx="6.8" ry="4.8" fill="none" stroke="#8a8270" stroke-width="0.6"/>
<circle cx="539.0" cy="235.3" r="2.2" fill="#0a0f1c"/>
<ellipse cx="577.6" cy="235.3" rx="9.8" ry="7.8" fill="#020e20"/>
<rect x="569.6" y="229.3" width="16" height="12" fill="#e2b425"/>
<circle cx="577.6" cy="235.3" r="2.2" fill="#0a0f1c"/>
<ellipse cx="625.6" cy="235.3" rx="9.8" ry="7.8" fill="#020e20"/>
<ellipse cx="625.6" cy="235.3" rx="8" ry="6" fill="#e2b425"/>
<ellipse cx="625.6" cy="235.3" rx="6.8" ry="4.8" fill="none" stroke="#a07c10" stroke-width="0.6"/>
<circle cx="625.6" cy="235.3" r="2.2" fill="#0a0f1c"/>
<ellipse cx="491.4" cy="251.0" rx="9.8" ry="7.8" fill="#020e20"/>
<ellipse cx="491.4" cy="251.0" rx="8" ry="6" fill="#f6ecc8"/>
<ellipse cx="491.4" cy="251.0" rx="6.8" ry="4.8" fill="none" stroke="#8a8270" stroke-width="0.6"/>
<circle cx="491.4" cy="251.0" r="2.2" fill="#0a0f1c"/>
<ellipse cx="539.0" cy="251.0" rx="9.8" ry="7.8" fill="#020e20"/>
<ellipse cx="539.0" cy="251.0" rx="8" ry="6" fill="#f6ecc8"/>
<ellipse cx="539.0" cy="251.0" rx="6.8" ry="4.8" fill="none" stroke="#8a8270" stroke-width="0.6"/>
<circle cx="539.0" cy="251.0" r="2.2" fill="#0a0f1c"/>
<ellipse cx="577.6" cy="251.0" rx="9.8" ry="7.8" fill="#020e20"/>
<ellipse cx="577.6" cy="251.0" rx="8" ry="6" fill="#e2b425"/>
<ellipse cx="577.6" cy="251.0" rx="6.8" ry="4.8" fill="none" stroke="#a07c10" stroke-width="0.6"/>
<circle cx="577.6" cy="251.0" r="2.2" fill="#0a0f1c"/>
<ellipse cx="625.6" cy="251.0" rx="9.8" ry="7.8" fill="#020e20"/>
<ellipse cx="625.6" cy="251.0" rx="8" ry="6" fill="#e2b425"/>
<ellipse cx="625.6" cy="251.0" rx="6.8" ry="4.8" fill="none" stroke="#a07c10" stroke-width="0.6"/>
<circle cx="625.6" cy="251.0" r="2.2" fill="#0a0f1c"/>
<ellipse cx="491.4" cy="266.8" rx="9.8" ry="7.8" fill="#020e20"/>
<ellipse cx="491.4" cy="266.8" rx="8" ry="6" fill="#f6ecc8"/>
<ellipse cx="491.4" cy="266.8" rx="6.8" ry="4.8" fill="none" stroke="#8a8270" stroke-width="0.6"/>
<circle cx="491.4" cy="266.8" r="2.2" fill="#0a0f1c"/>
<ellipse cx="539.0" cy="266.8" rx="9.8" ry="7.8" fill="#020e20"/>
<ellipse cx="539.0" cy="266.8" rx="8" ry="6" fill="#f6ecc8"/>
<ellipse cx="539.0" cy="266.8" rx="6.8" ry="4.8" fill="none" stroke="#8a8270" stroke-width="0.6"/>
<circle cx="539.0" cy="266.8" r="2.2" fill="#0a0f1c"/>
<ellipse cx="577.6" cy="266.8" rx="9.8" ry="7.8" fill="#020e20"/>
<ellipse cx="577.6" cy="266.8" rx="8" ry="6" fill="#e2b425"/>
<ellipse cx="577.6" cy="266.8" rx="6.8" ry="4.8" fill="none" stroke="#a07c10" stroke-width="0.6"/>
<circle cx="577.6" cy="266.8" r="2.2" fill="#0a0f1c"/>
<ellipse cx="625.6" cy="266.8" rx="9.8" ry="7.8" fill="#020e20"/>
<ellipse cx="625.6" cy="266.8" rx="8" ry="6" fill="#e2b425"/>
<ellipse cx="625.6" cy="266.8" rx="6.8" ry="4.8" fill="none" stroke="#a07c10" stroke-width="0.6"/>
<circle cx="625.6" cy="266.8" r="2.2" fill="#0a0f1c"/>
<ellipse cx="491.4" cy="282.5" rx="9.8" ry="7.8" fill="#020e20"/>
<ellipse cx="491.4" cy="282.5" rx="8" ry="6" fill="#f6ecc8"/>
<ellipse cx="491.4" cy="282.5" rx="6.8" ry="4.8" fill="none" stroke="#8a8270" stroke-width="0.6"/>
<circle cx="491.4" cy="282.5" r="2.2" fill="#0a0f1c"/>
<ellipse cx="539.0" cy="282.5" rx="9.8" ry="7.8" fill="#020e20"/>
<ellipse cx="539.0" cy="282.5" rx="8" ry="6" fill="#f6ecc8"/>
<ellipse cx="539.0" cy="282.5" rx="6.8" ry="4.8" fill="none" stroke="#8a8270" stroke-width="0.6"/>
<circle cx="539.0" cy="282.5" r="2.2" fill="#0a0f1c"/>
<ellipse cx="577.6" cy="282.5" rx="9.8" ry="7.8" fill="#020e20"/>
<ellipse cx="577.6" cy="282.5" rx="8" ry="6" fill="#e2b425"/>
<ellipse cx="577.6" cy="282.5" rx="6.8" ry="4.8" fill="none" stroke="#a07c10" stroke-width="0.6"/>
<circle cx="577.6" cy="282.5" r="2.2" fill="#0a0f1c"/>
<ellipse cx="625.6" cy="282.5" rx="9.8" ry="7.8" fill="#020e20"/>
<ellipse cx="625.6" cy="282.5" rx="8" ry="6" fill="#e2b425"/>
<ellipse cx="625.6" cy="282.5" rx="6.8" ry="4.8" fill="none" stroke="#a07c10" stroke-width="0.6"/>
<circle cx="625.6" cy="282.5" r="2.2" fill="#0a0f1c"/>
<ellipse cx="491.4" cy="298.2" rx="9.8" ry="7.8" fill="#020e20"/>
<ellipse cx="491.4" cy="298.2" rx="8" ry="6" fill="#f6ecc8"/>
<ellipse cx="491.4" cy="298.2" rx="6.8" ry="4.8" fill="none" stroke="#8a8270" stroke-width="0.6"/>
<circle cx="491.4" cy="298.2" r="2.2" fill="#0a0f1c"/>
<ellipse cx="539.0" cy="298.2" rx="9.8" ry="7.8" fill="#020e20"/>
<ellipse cx="539.0" cy="298.2" rx="8" ry="6" fill="#f6ecc8"/>
<ellipse cx="539.0" cy="298.2" rx="6.8" ry="4.8" fill="none" stroke="#8a8270" stroke-width="0.6"/>
<circle cx="539.0" cy="298.2" r="2.2" fill="#0a0f1c"/>
<ellipse cx="577.6" cy="298.2" rx="9.8" ry="7.8" fill="#020e20"/>
<ellipse cx="577.6" cy="298.2" rx="8" ry="6" fill="#e2b425"/>
<ellipse cx="577.6" cy="298.2" rx="6.8" ry="4.8" fill="none" stroke="#a07c10" stroke-width="0.6"/>
<circle cx="577.6" cy="298.2" r="2.2" fill="#0a0f1c"/>
<ellipse cx="625.6" cy="298.2" rx="9.8" ry="7.8" fill="#020e20"/>
<ellipse cx="625.6" cy="298.2" rx="8" ry="6" fill="#e2b425"/>
<ellipse cx="625.6" cy="298.2" rx="6.8" ry="4.8" fill="none" stroke="#a07c10" stroke-width="0.6"/>
<circle cx="625.6" cy="298.2" r="2.2" fill="#0a0f1c"/>
<ellipse cx="491.4" cy="314.0" rx="9.8" ry="7.8" fill="#020e20"/>
<ellipse cx="491.4" cy="314.0" rx="8" ry="6" fill="#f6ecc8"/>
<ellipse cx="491.4" cy="314.0" rx="6.8" ry="4.8" fill="none" stroke="#8a8270" stroke-width="0.6"/>
<circle cx="491.4" cy="314.0" r="2.2" fill="#0a0f1c"/>
<ellipse cx="539.0" cy="314.0" rx="9.8" ry="7.8" fill="#020e20"/>
<ellipse cx="539.0" cy="314.0" rx="8" ry="6" fill="#f6ecc8"/>
<ellipse cx="539.0" cy="314.0" rx="6.8" ry="4.8" fill="none" stroke="#8a8270" stroke-width="0.6"/>
<circle cx="539.0" cy="314.0" r="2.2" fill="#0a0f1c"/>
<ellipse cx="577.6" cy="314.0" rx="9.8" ry="7.8" fill="#020e20"/>
<ellipse cx="577.6" cy="314.0" rx="8" ry="6" fill="#e2b425"/>
<ellipse cx="577.6" cy="314.0" rx="6.8" ry="4.8" fill="none" stroke="#a07c10" stroke-width="0.6"/>
<circle cx="577.6" cy="314.0" r="2.2" fill="#0a0f1c"/>
<ellipse cx="625.6" cy="314.0" rx="9.8" ry="7.8" fill="#020e20"/>
<ellipse cx="625.6" cy="314.0" rx="8" ry="6" fill="#e2b425"/>
<ellipse cx="625.6" cy="314.0" rx="6.8" ry="4.8" fill="none" stroke="#a07c10" stroke-width="0.6"/>
<circle cx="625.6" cy="314.0" r="2.2" fill="#0a0f1c"/>
<ellipse cx="491.4" cy="329.7" rx="9.8" ry="7.8" fill="#020e20"/>
<ellipse cx="491.4" cy="329.7" rx="8" ry="6" fill="#f6ecc8"/>
<ellipse cx="491.4" cy="329.7" rx="6.8" ry="4.8" fill="none" stroke="#8a8270" stroke-width="0.6"/>
<circle cx="491.4" cy="329.7" r="2.2" fill="#0a0f1c"/>
<ellipse cx="539.0" cy="329.7" rx="9.8" ry="7.8" fill="#020e20"/>
<ellipse cx="539.0" cy="329.7" rx="8" ry="6" fill="#f6ecc8"/>
<ellipse cx="539.0" cy="329.7" rx="6.8" ry="4.8" fill="none" stroke="#8a8270" stroke-width="0.6"/>
<circle cx="539.0" cy="329.7" r="2.2" fill="#0a0f1c"/>
<ellipse cx="577.6" cy="329.7" rx="9.8" ry="7.8" fill="#020e20"/>
<ellipse cx="577.6" cy="329.7" rx="8" ry="6" fill="#e2b425"/>
<ellipse cx="577.6" cy="329.7" rx="6.8" ry="4.8" fill="none" stroke="#a07c10" stroke-width="0.6"/>
<circle cx="577.6" cy="329.7" r="2.2" fill="#0a0f1c"/>
<ellipse cx="625.6" cy="329.7" rx="9.8" ry="7.8" fill="#020e20"/>
<ellipse cx="625.6" cy="329.7" rx="8" ry="6" fill="#e2b425"/>
<ellipse cx="625.6" cy="329.7" rx="6.8" ry="4.8" fill="none" stroke="#a07c10" stroke-width="0.6"/>
<circle cx="625.6" cy="329.7" r="2.2" fill="#0a0f1c"/>
<circle cx="577.6" cy="361.9" r="7.8" fill="#020e20"/>
<circle cx="577.6" cy="361.9" r="5.9" fill="#e2b425"/>
<circle cx="577.6" cy="361.9" r="4.7" fill="none" stroke="#a07c10" stroke-width="0.6"/>
<circle cx="577.6" cy="361.9" r="2.4" fill="#0a0f1c"/>
<circle cx="577.6" cy="392.0" r="7.8" fill="#020e20"/>
<circle cx="577.6" cy="392.0" r="5.9" fill="#e2b425"/>
<circle cx="577.6" cy="392.0" r="4.7" fill="none" stroke="#a07c10" stroke-width="0.6"/>
<circle cx="577.6" cy="392.0" r="2.4" fill="#0a0f1c"/>
<circle cx="602.6" cy="361.9" r="7.8" fill="#020e20"/>
<circle cx="602.6" cy="361.9" r="5.9" fill="#e2b425"/>
<circle cx="602.6" cy="361.9" r="4.7" fill="none" stroke="#a07c10" stroke-width="0.6"/>
<circle cx="602.6" cy="361.9" r="2.4" fill="#0a0f1c"/>
<circle cx="602.6" cy="392.0" r="7.8" fill="#020e20"/>
<circle cx="602.6" cy="392.0" r="5.9" fill="#e2b425"/>
<circle cx="602.6" cy="392.0" r="4.7" fill="none" stroke="#a07c10" stroke-width="0.6"/>
<circle cx="602.6" cy="392.0" r="2.4" fill="#0a0f1c"/>
<circle cx="627.7" cy="361.9" r="7.8" fill="#020e20"/>
<circle cx="627.7" cy="361.9" r="5.9" fill="#e2b425"/>
<circle cx="627.7" cy="361.9" r="4.7" fill="none" stroke="#a07c10" stroke-width="0.6"/>
<circle cx="627.7" cy="361.9" r="2.4" fill="#0a0f1c"/>
<circle cx="627.7" cy="392.0" r="7.8" fill="#020e20"/>
<circle cx="627.7" cy="392.0" r="5.9" fill="#e2b425"/>
<circle cx="627.7" cy="392.0" r="4.7" fill="none" stroke="#a07c10" stroke-width="0.6"/>
<circle cx="627.7" cy="392.0" r="2.4" fill="#0a0f1c"/>
<circle cx="475.8" cy="267.5" r="5.2" fill="#e9e9e9"/><circle cx="475.8" cy="267.5" r="1.6" fill="#e0a020"/>
<circle cx="566.2" cy="345.5" r="5.2" fill="#e9e9e9"/><circle cx="566.2" cy="345.5" r="1.6" fill="#e0a020"/>
<circle cx="805.7" cy="228.1" r="5.2" fill="#e9e9e9"/><circle cx="805.7" cy="228.1" r="1.6" fill="#e0a020"/>
<path d="M403.9 182.0H408.2M449.1 182.0H453.5" stroke="#e6dfae" stroke-width="0.9"/>
<rect x="408.2" y="173.9" width="40.9" height="16.2" fill="none" stroke="#e6dfae" stroke-width="1.1"/>
<rect x="390.4" y="172.7" width="76.1" height="18.6" fill="none" stroke="#c53ac8" stroke-width="1"/>
<path d="M403.9 203.0H408.2M449.1 203.0H453.5" stroke="#e6dfae" stroke-width="0.9"/>
<rect x="408.2" y="194.9" width="40.9" height="16.2" fill="none" stroke="#e6dfae" stroke-width="1.1"/>
<rect x="390.4" y="193.7" width="76.1" height="18.6" fill="none" stroke="#c53ac8" stroke-width="1"/>
<path d="M403.9 222.8H408.2M449.1 222.8H453.5" stroke="#e6dfae" stroke-width="0.9"/>
<rect x="408.2" y="214.7" width="40.9" height="16.2" fill="none" stroke="#e6dfae" stroke-width="1.1"/>
<rect x="390.4" y="213.5" width="76.1" height="18.6" fill="none" stroke="#c53ac8" stroke-width="1"/>
<path d="M403.9 243.7H408.2M449.1 243.7H453.5" stroke="#e6dfae" stroke-width="0.9"/>
<rect x="408.2" y="235.6" width="40.9" height="16.2" fill="none" stroke="#e6dfae" stroke-width="1.1"/>
<rect x="390.4" y="234.4" width="76.1" height="18.6" fill="none" stroke="#c53ac8" stroke-width="1"/>
<path d="M403.9 267.0H408.2M449.1 267.0H453.5" stroke="#e6dfae" stroke-width="0.9"/>
<rect x="408.2" y="258.9" width="40.9" height="16.2" fill="none" stroke="#e6dfae" stroke-width="1.1"/>
<rect x="390.4" y="257.7" width="76.1" height="18.6" fill="none" stroke="#c53ac8" stroke-width="1"/>
<path d="M403.9 298.4H408.2M449.1 298.4H453.5" stroke="#e6dfae" stroke-width="0.9"/>
<rect x="408.2" y="290.3" width="40.9" height="16.2" fill="none" stroke="#e6dfae" stroke-width="1.1"/>
<rect x="390.4" y="289.1" width="76.1" height="18.6" fill="none" stroke="#c53ac8" stroke-width="1"/>
<path d="M403.9 369.5H408.2M449.1 369.5H453.5" stroke="#e6dfae" stroke-width="0.9"/>
<rect x="408.2" y="361.4" width="40.9" height="16.2" fill="none" stroke="#e6dfae" stroke-width="1.1"/>
<rect x="390.4" y="360.2" width="76.1" height="18.6" fill="none" stroke="#c53ac8" stroke-width="1"/>
<path d="M654.8 275.0H659.6M700.6 275.0H704.4" stroke="#e6dfae" stroke-width="0.9"/>
<rect x="659.6" y="266.9" width="41.0" height="16.2" fill="none" stroke="#e6dfae" stroke-width="1.1"/>
<rect x="642.2" y="265.7" width="75.8" height="18.6" fill="none" stroke="#c53ac8" stroke-width="1"/>
<path d="M654.8 306.2H659.6M700.6 306.2H704.4" stroke="#e6dfae" stroke-width="0.9"/>
<rect x="659.6" y="298.1" width="41.0" height="16.2" fill="none" stroke="#e6dfae" stroke-width="1.1"/>
<rect x="642.2" y="296.9" width="75.8" height="18.6" fill="none" stroke="#c53ac8" stroke-width="1"/>
<path d="M654.8 337.4H659.6M700.6 337.4H704.4" stroke="#e6dfae" stroke-width="0.9"/>
<rect x="659.6" y="329.3" width="41.0" height="16.2" fill="none" stroke="#e6dfae" stroke-width="1.1"/>
<rect x="642.2" y="328.1" width="75.8" height="18.6" fill="none" stroke="#c53ac8" stroke-width="1"/>
<path d="M654.8 377.1H659.6M700.6 377.1H704.4" stroke="#e6dfae" stroke-width="0.9"/>
<rect x="659.6" y="369.0" width="41.0" height="16.2" fill="none" stroke="#e6dfae" stroke-width="1.1"/>
<rect x="642.2" y="367.8" width="75.8" height="18.6" fill="none" stroke="#c53ac8" stroke-width="1"/>
<path d="M648.7 180.6H652.6M692.3 180.6H696.7" stroke="#e6dfae" stroke-width="0.9"/>
<rect x="652.6" y="172.5" width="39.7" height="16.2" fill="none" stroke="#e6dfae" stroke-width="1.1"/>
<rect x="636.0" y="171.3" width="74.9" height="18.6" fill="none" stroke="#c53ac8" stroke-width="1"/>
<path d="M561.0 172.6H566.0M605.7 172.6H610.7" stroke="#e6dfae" stroke-width="0.9"/>
<rect x="566.0" y="164.5" width="39.7" height="16.2" fill="none" stroke="#e6dfae" stroke-width="1.1"/>
<rect x="547.2" y="163.3" width="77.3" height="18.6" fill="none" stroke="#c53ac8" stroke-width="1"/>
<path d="M497.5 172.6H498.6M526.4 172.6H533" stroke="#e6dfae" stroke-width="0.9"/>
<rect x="498.6" y="164.0" width="27.8" height="17.5" fill="none" stroke="#e6dfae" stroke-width="1.1"/>
<path d="M522 164V181.5" stroke="#e6dfae" stroke-width="1"/>
<rect x="484.4" y="163.3" width="61.4" height="19.8" fill="none" stroke="#c53ac8" stroke-width="1"/>
<path d="M545.5 196.8H561M594.8 196.8H609.5" stroke="#e6dfae" stroke-width="0.9"/>
<rect x="561.0" y="186.5" width="33.8" height="19.8" fill="none" stroke="#e6dfae" stroke-width="1.1"/>
<rect x="532.3" y="185.5" width="90.2" height="21.8" fill="none" stroke="#c53ac8" stroke-width="1"/>
<rect x="640.0" y="147.4" width="32.7" height="20.6" fill="none" stroke="#e6dfae" stroke-width="1.1"/>
<rect x="635.0" y="145.3" width="43.8" height="23.9" fill="none" stroke="#c53ac8" stroke-width="1"/>
<path d="M654.5 212.4H655.3M688.4 212.4H689.5" stroke="#e6dfae" stroke-width="0.9"/>
<rect x="655.3" y="203.7" width="33.1" height="17.9" fill="none" stroke="#e6dfae" stroke-width="1.1"/>
<path d="M684 203.7V221.6" stroke="#e6dfae" stroke-width="1"/>
<rect x="641.0" y="202.0" width="62.2" height="20.7" fill="none" stroke="#c53ac8" stroke-width="1"/>
<rect x="746.8" y="214.0" width="17.5" height="93.3" fill="none" stroke="#e6dfae" stroke-width="1.1"/>
<rect x="744.2" y="210.2" width="22.7" height="99.3" fill="none" stroke="#c53ac8" stroke-width="1"/>
<rect x="482.3" y="227.5" width="65.4" height="112" fill="none" stroke="#dcdcdc" stroke-width="0.9"/>
<path d="M501.7 227.5V338M529.5 227.5V338M509 227.5a6 6 0 0 0 12 0" fill="none" stroke="#dcdcdc" stroke-width="0.9"/>
<path d="M482 227H547.7V340H482Z" fill="none" stroke="#c53ac8" stroke-width="0.9"/>
<path d="M494 236L515 340M493 236L512 222" fill="none" stroke="#c53ac8" stroke-width="0.8"/>
<rect x="588" y="227" width="27.7" height="111" fill="none" stroke="#e6dfae" stroke-width="0.9"/>
<path d="M596 227a6 6 0 0 0 12 0" fill="none" stroke="#e6dfae" stroke-width="0.9"/>
<path d="M570 227V339M633 227V339" stroke="#e6dfae" stroke-width="0.8"/>
<rect x="568.7" y="226.6" width="65.8" height="113.8" fill="none" stroke="#c53ac8" stroke-width="1"/>
<rect x="569.7" y="358.0" width="16.9" height="38.0" fill="none" stroke="#e6dfae" stroke-width="0.9"/>
<rect x="566.7" y="355.3" width="22.9" height="43.7" fill="none" stroke="#c53ac8" stroke-width="1"/>
<rect x="594.7" y="358.0" width="16.9" height="38.0" fill="none" stroke="#e6dfae" stroke-width="0.9"/>
<rect x="591.7" y="355.3" width="22.9" height="43.7" fill="none" stroke="#c53ac8" stroke-width="1"/>
<rect x="619.8" y="358.0" width="16.5" height="38.0" fill="none" stroke="#e6dfae" stroke-width="0.9"/>
<rect x="616.8" y="355.3" width="22.5" height="43.7" fill="none" stroke="#c53ac8" stroke-width="1"/>
<text x="468.0" y="186.3" font-size="9.0" fill="#e6dfae" text-anchor="start" textLength="11.0" lengthAdjust="spacingAndGlyphs">R1</text>
<text x="469.0" y="206.5" font-size="9.0" fill="#e6dfae" text-anchor="start" textLength="16.0" lengthAdjust="spacingAndGlyphs">R10</text>
<text x="428.6" y="186.0" font-size="9.0" fill="#94a8c6" text-anchor="middle" >R1</text>
<text x="428.6" y="191.0" font-size="7.0" fill="#94a8c6" text-anchor="middle" >100</text>
<text x="428.6" y="207.0" font-size="9.0" fill="#94a8c6" text-anchor="middle" >R10</text>
<text x="428.6" y="212.0" font-size="7.0" fill="#94a8c6" text-anchor="middle" >100</text>
<text x="428.6" y="227.0" font-size="9.0" fill="#94a8c6" text-anchor="middle" >R9</text>
<text x="428.6" y="232.0" font-size="7.0" fill="#94a8c6" text-anchor="middle" >100</text>
<text x="428.6" y="247.5" font-size="9.0" fill="#94a8c6" text-anchor="middle" >R6</text>
<text x="428.6" y="255.0" font-size="8.0" fill="#94a8c6" text-anchor="middle" >100</text>
<text x="428.6" y="270.5" font-size="9.0" fill="#94a8c6" text-anchor="middle" >R8</text>
<text x="428.6" y="171.0" font-size="9.0" fill="#94a8c6" text-anchor="middle" >100</text>
<text x="428.6" y="287.0" font-size="9.0" fill="#94a8c6" text-anchor="middle" >100</text>
<text x="428.6" y="302.0" font-size="9.0" fill="#94a8c6" text-anchor="middle" >R7</text>
<text x="428.6" y="316.5" font-size="9.0" fill="#e6dfae" text-anchor="middle" >R7</text>
<text x="428.6" y="357.5" font-size="9.0" fill="#94a8c6" text-anchor="middle" >47</text>
<text x="428.6" y="373.0" font-size="9.0" fill="#94a8c6" text-anchor="middle" >R4</text>
<text x="428.6" y="387.0" font-size="9.0" fill="#e6dfae" text-anchor="middle" >R4</text>
<text x="384.0" y="226.0" font-size="9.0" fill="#94a8c6" text-anchor="middle" >R9</text>
<text x="384.0" y="247.0" font-size="9.0" fill="#94a8c6" text-anchor="middle" >R6</text>
<text x="384.0" y="270.5" font-size="9.0" fill="#94a8c6" text-anchor="middle" >R8</text>
<text x="680.2" y="278.3" font-size="9.0" fill="#94a8c6" text-anchor="middle" >R14</text>
<text x="680.2" y="309.5" font-size="9.0" fill="#94a8c6" text-anchor="middle" >R11</text>
<text x="680.2" y="340.7" font-size="9.0" fill="#94a8c6" text-anchor="middle" >R12</text>
<text x="680.2" y="380.4" font-size="9.0" fill="#94a8c6" text-anchor="middle" >R13</text>
<text x="680.2" y="394.5" font-size="9.0" fill="#e6dfae" text-anchor="middle" >R13</text>
<text x="680.2" y="364.8" font-size="9.0" fill="#94a8c6" text-anchor="middle" >100</text>
<text x="680.2" y="354.0" font-size="9.0" fill="#e6dfae" text-anchor="middle" >R12</text>
<text x="680.2" y="291.5" font-size="8.0" fill="#94a8c6" text-anchor="middle" >R14</text>
<text x="680.2" y="322.0" font-size="8.0" fill="#94a8c6" text-anchor="middle" >R11</text>
<text x="672.5" y="184.0" font-size="9.0" fill="#94a8c6" text-anchor="middle" >R5</text>
<text x="717.4" y="184.0" font-size="9.0" fill="#e6dfae" text-anchor="start" >R5</text>
<text x="667.3" y="198.0" font-size="9.0" fill="#94a8c6" text-anchor="middle" >1K</text>
<text x="585.8" y="176.0" font-size="9.0" fill="#94a8c6" text-anchor="middle" >R2</text>
<text x="588.0" y="162.0" font-size="9.0" fill="#e6dfae" text-anchor="middle" >R2</text>
<text x="566.0" y="159.8" font-size="9.0" fill="#94a8c6" text-anchor="middle" >5,1K</text>
<text x="512.5" y="176.0" font-size="9.0" fill="#94a8c6" text-anchor="middle" >D1</text>
<text x="515.0" y="160.0" font-size="9.0" fill="#94a8c6" text-anchor="middle" >BAT46</text>
<text x="510.0" y="191.0" font-size="9.0" fill="#e6dfae" text-anchor="middle" >D1</text>
<text x="539.0" y="188.0" font-size="7.0" fill="#e6dfae" text-anchor="middle" >K</text>
<text x="578.0" y="200.0" font-size="9.0" fill="#94a8c6" text-anchor="middle" >C1</text>
<text x="517.5" y="200.0" font-size="9.0" fill="#e6dfae" text-anchor="middle" >C1</text>
<text x="570.0" y="216.0" font-size="9.0" fill="#94a8c6" text-anchor="middle" >10F</text>
<text x="656.4" y="161.0" font-size="9.0" fill="#94a8c6" text-anchor="middle" >C3</text>
<text x="692.3" y="158.0" font-size="9.0" fill="#e6dfae" text-anchor="middle" >C3</text>
<text x="695.5" y="167.5" font-size="9.0" fill="#94a8c6" text-anchor="middle" textLength="28.0" lengthAdjust="spacingAndGlyphs">100pF</text>
<text x="672.0" y="216.0" font-size="9.0" fill="#94a8c6" text-anchor="middle" >D2</text>
<text x="651.2" y="231.0" font-size="9.0" fill="#94a8c6" text-anchor="middle" textLength="27.0" lengthAdjust="spacingAndGlyphs">BAT46</text>
<text x="672.0" y="231.0" font-size="9.0" fill="#94a8c6" text-anchor="middle" >D2</text>
<text x="695.6" y="232.5" font-size="7.0" fill="#e6dfae" text-anchor="middle" >K</text>
<text x="755.0" y="208.5" font-size="9.0" fill="#e6dfae" text-anchor="middle" >P1</text>
<text x="755.5" y="316.5" font-size="9.0" fill="#94a8c6" text-anchor="middle" textLength="35.0" lengthAdjust="spacingAndGlyphs">CONN_6</text>
<text x="515.2" y="224.5" font-size="9.0" fill="#e6dfae" text-anchor="middle" >U1</text>
<text x="515.2" y="286.0" font-size="9.0" fill="#94a8c6" text-anchor="middle" >U1</text>
<text x="515.5" y="347.5" font-size="9.0" fill="#94a8c6" text-anchor="middle" textLength="39.0" lengthAdjust="spacingAndGlyphs">74LS125</text>
<text x="601.7" y="224.5" font-size="9.0" fill="#e6dfae" text-anchor="middle" >U2</text>
<text x="601.7" y="286.0" font-size="9.0" fill="#94a8c6" text-anchor="middle" >U2</text>
<text x="602.5" y="347.5" font-size="9.0" fill="#94a8c6" text-anchor="middle" textLength="39.0" lengthAdjust="spacingAndGlyphs">74LS125</text>
<text transform="translate(561,390) rotate(-90)" font-size="8" fill="#94a8c6" textLength="26" lengthAdjust="spacingAndGlyphs">100pF</text>
<text transform="translate(580.1,386) rotate(-90)" font-size="8" fill="#e6dfae" textLength="16" lengthAdjust="spacingAndGlyphs">C2</text>
<text transform="translate(585.6,389) rotate(-90)" font-size="7" fill="#94a8c6" textLength="22" lengthAdjust="spacingAndGlyphs">100nF</text>
<text transform="translate(605.1,386) rotate(-90)" font-size="8" fill="#e6dfae" textLength="16" lengthAdjust="spacingAndGlyphs">C3</text>
<text transform="translate(610.6,389) rotate(-90)" font-size="7" fill="#94a8c6" textLength="22" lengthAdjust="spacingAndGlyphs">100nF</text>
<text transform="translate(630.2,386) rotate(-90)" font-size="8" fill="#e6dfae" textLength="16" lengthAdjust="spacingAndGlyphs">C5</text>
<text transform="translate(635.7,389) rotate(-90)" font-size="7" fill="#94a8c6" textLength="22" lengthAdjust="spacingAndGlyphs">C4</text>
<text transform="translate(645,399) rotate(-90)" font-size="8" fill="#e6dfae">C4</text>
<text transform="translate(494,157) scale(-1,1)" font-size="13" fill="#4a80cf" textLength="96" lengthAdjust="spacingAndGlyphs">Component Side</text>
<text x="380.4" y="155.6" font-size="14.0" font-weight="bold" fill="#c62c2a" textLength="112.6" lengthAdjust="spacingAndGlyphs">Component Side</text>
<text x="697.8" y="201.6" font-size="15.0" font-weight="bold" fill="#c62c2a" textLength="27.2" lengthAdjust="spacingAndGlyphs">VCC</text>
<text x="697.8" y="232.6" font-size="15.0" font-weight="bold" fill="#c62c2a" textLength="27.2" lengthAdjust="spacingAndGlyphs">GND</text>
<text x="646.0" y="264.2" font-size="15.0" font-weight="bold" fill="#c62c2a" textLength="74.7" lengthAdjust="spacingAndGlyphs">TDO-DONE</text>
<text x="657.4" y="295.2" font-size="15.0" font-weight="bold" fill="#c62c2a" textLength="52.6" lengthAdjust="spacingAndGlyphs">TDI-TIN</text>
<text x="652.6" y="326.7" font-size="15.0" font-weight="bold" fill="#c62c2a" textLength="63.7" lengthAdjust="spacingAndGlyphs">TCK-CCL</text>
<text x="646.5" y="361.6" font-size="15.0" font-weight="bold" fill="#c62c2a" textLength="75.9" lengthAdjust="spacingAndGlyphs">TMS-PROG</text>
<g stroke="#d6d6d6" stroke-width="1.3" fill="none">
<path d="M345.9 112V446M842.2 409V446M346 439.5H842"/>
<path d="M354 435L346 439.5L354 444M834 435L842 439.5L834 444"/>
</g>
<text x="549.9" y="433.6" font-size="15" fill="#e4e4e4" textLength="87" lengthAdjust="spacingAndGlyphs">80.4000 mm</text>
<path d="M471.3 118Q472.3 121.7 476 122.7Q472.3 123.7 471.3 127.5Q470.3 123.7 466.7 122.7Q470.3 121.7 471.3 118Z" fill="#d8d8d8"/>
<path d="M473.5 129.5L476.5 126.5L479.5 129.5M475.5 130.5L478.5 127.5" fill="none" stroke="#c8c8c8" stroke-width="0.8"/>
</svg>
<div class="a" style="left:974px;top:92px;width:11px;height:369px;background:#f0f0f0"></div>
<div class="a" style="left:213px;top:461px;width:772px;height:11px;background:#f0f0f0"></div>
<svg class="a" style="left:216px;top:76px" width="12" height="12"><path d="M6 1L11.5 11H0.5Z" fill="#f5c518"/><path d="M6 4.3V7.8" stroke="#222" stroke-width="1.3"/><circle cx="6" cy="9.5" r="0.75" fill="#222"/></svg>
<div class="t" style="left:229px;top:78.5px">Board file is read only.</div>
<svg class="a" style="left:972px;top:77px" width="10" height="10"><rect x="0.5" y="0.5" width="9" height="9" fill="#e8a0a0" stroke="#a03838"/><path d="M2.5 2.5L7.5 7.5M7.5 2.5L2.5 7.5" stroke="#fff" stroke-width="1.4"/></svg>
<div class="a" style="left:974.5px;top:285px;width:8.5px;height:10px;background:#cdcdcd"></div>
<div class="a" style="left:629px;top:463px;width:25px;height:8px;background:#cdcdcd"></div>
<svg class="a" style="left:974px;top:92px" width="11" height="381"><path d="M3 8L5.5 5.5L8 8M3 363L5.5 365.5L8 363" fill="none" stroke="#555" stroke-width="1"/></svg>
<svg class="a" style="left:213px;top:461px" width="772" height="12"><path d="M8 3.5L5.5 6L8 8.5M756 3.5L758.5 6L756 8.5" fill="none" stroke="#555" stroke-width="1"/></svg>
<div class="a" style="left:213px;top:472px;width:772px;height:1px;background:#c8c8c8"></div>

<!-- search -->
<div class="a" id="search" style="left:213px;top:474px;width:772px;height:148px;background:#f0f0f0"></div>
<div class="hdr" style="left:213px;top:474.7px;width:772px;height:12.8px"></div>
<div class="t" style="left:215px;top:477.5px">Search</div>
<svg class="a" style="left:975px;top:477px" width="8" height="8"><path d="M1 1L7 7M7 1L1 7" stroke="#111" stroke-width="1.3"/></svg>
<div class="a" style="left:214px;top:490.5px;width:770px;height:14.5px;background:#fff;border:1px solid #adadad"></div>
<svg class="a" style="left:217px;top:493px" width="10" height="10"><circle cx="4" cy="4" r="3" fill="none" stroke="#333" stroke-width="1.1"/><path d="M6.2 6.2L9 9" stroke="#333" stroke-width="1.2"/></svg>
<div class="t" style="left:229px;top:494.5px;color:#777">Search</div>
<div class="a" style="left:215px;top:522.5px;width:770px;height:0;border-top:1px solid #d9d9d9"></div>
<div class="a" style="left:214px;top:508px;width:41px;height:15px;background:#fff;border:1px solid #d9d9d9;border-bottom:none"></div>
<div class="t" style="left:218.0px;top:512.5px">Footprints</div>
<div class="a" style="left:255px;top:510px;width:30px;height:13px;background:#f0f0f0;border:1px solid #d9d9d9;border-left:none"></div>
<div class="t" style="left:259.0px;top:514px">Zones</div>
<div class="a" style="left:285px;top:510px;width:30px;height:13px;background:#f0f0f0;border:1px solid #d9d9d9;border-left:none"></div>
<div class="t" style="left:289.0px;top:514px">Nets</div>
<div class="a" style="left:315px;top:510px;width:29px;height:13px;background:#f0f0f0;border:1px solid #d9d9d9;border-left:none"></div>
<div class="t" style="left:319.0px;top:514px">Text</div>
<div class="a" style="left:215px;top:522.5px;width:768px;height:97px;background:#fff;border:1px solid #d0d0d0"></div>
<div class="a" style="left:263.3px;top:523px;width:1px;height:96px;background:#eef2f7"></div>
<div class="a" style="left:357.3px;top:523px;width:1px;height:96px;background:#eef2f7"></div>
<div class="a" style="left:404.0px;top:523px;width:1px;height:96px;background:#eef2f7"></div>
<div class="a" style="left:450.7px;top:523px;width:1px;height:96px;background:#eef2f7"></div>
<div class="a" style="left:497.3px;top:523px;width:1px;height:96px;background:#eef2f7"></div>
<div class="t" style="left:220.5px;top:528.5px">Reference</div>
<div class="t" style="left:267px;top:528.5px">Value</div>
<div class="t" style="left:361px;top:528.5px">Layer</div>
<div class="t" style="left:408px;top:528.5px">X</div>
<div class="t" style="left:455px;top:528.5px">Y</div>
<div class="t" style="left:220.5px;top:542.2px">R14</div>
<div class="t" style="left:267.0px;top:542.2px">100</div>
<div class="t" style="left:361.0px;top:542.2px">top_copper</div>
<div class="t" style="left:408.0px;top:542.2px">162.5600 ...</div>
<div class="t" style="left:455.0px;top:542.2px">88.9000 ...</div>
<div class="t" style="left:220.5px;top:554.0px">R9</div>
<div class="t" style="left:267.0px;top:554.0px">100</div>
<div class="t" style="left:361.0px;top:554.0px">top_copper</div>
<div class="t" style="left:408.0px;top:554.0px">121.9200 ...</div>
<div class="t" style="left:455.0px;top:554.0px">80.5180 ...</div>
<div class="t" style="left:220.5px;top:565.8px">R4</div>
<div class="t" style="left:267.0px;top:565.8px">47</div>
<div class="t" style="left:361.0px;top:565.8px">top_copper</div>
<div class="t" style="left:408.0px;top:565.8px">121.9200 ...</div>
<div class="t" style="left:455.0px;top:565.8px">104.1400 ...</div>
<div class="t" style="left:220.5px;top:577.6px">R13</div>
<div class="t" style="left:267.0px;top:577.6px">100</div>
<div class="t" style="left:361.0px;top:577.6px">top_copper</div>
<div class="t" style="left:408.0px;top:577.6px">162.5600 ...</div>
<div class="t" style="left:455.0px;top:577.6px">105.4100 ...</div>
<div class="t" style="left:220.5px;top:589.4px">R12</div>
<div class="t" style="left:267.0px;top:589.4px">100</div>
<div class="t" style="left:361.0px;top:589.4px">top_copper</div>
<div class="t" style="left:408.0px;top:589.4px">162.5600 ...</div>
<div class="t" style="left:455.0px;top:589.4px">99.0600 ...</div>
<div class="t" style="left:220.5px;top:601.2px">R11</div>
<div class="t" style="left:267.0px;top:601.2px">100</div>
<div class="t" style="left:361.0px;top:601.2px">top_copper</div>
<div class="t" style="left:408.0px;top:601.2px">162.5600 ...</div>
<div class="t" style="left:455.0px;top:601.2px">93.9800 ...</div>
<div class="t" style="left:220.5px;top:613.0px">R8</div>
<div class="t" style="left:267.0px;top:613.0px">100</div>
<div class="t" style="left:361.0px;top:613.0px">top_copper</div>
<div class="t" style="left:408.0px;top:613.0px">121.9200 ...</div>
<div class="t" style="left:455.0px;top:613.0px">87.6300 ...</div>
<div class="a" style="left:215px;top:619px;width:770px;height:3px;background:#f0f0f0"></div>
<div class="a" style="left:971.5px;top:523.5px;width:11px;height:95px;background:#f0f0f0"></div>
<div class="a" style="left:972.5px;top:535px;width:8.5px;height:17.5px;background:#cdcdcd"></div>
<svg class="a" style="left:971.5px;top:523.5px" width="11" height="95"><path d="M3 8L5.5 5.5L8 8M3 88L5.5 90.5L8 88" fill="none" stroke="#555" stroke-width="1"/></svg>
<!-- right toolbar -->
<div class="a" id="rtb" style="left:986px;top:72px;width:23px;height:551px;background:#f0f0f0"></div>
<svg class="a" style="left:986px;top:72px" width="23" height="460" viewBox="0 0 23 460">
<g fill="none">
<rect x="1.5" y="4.5" width="20" height="19.5" fill="#cce4f7" stroke="#99d1ff"/>
<path d="M9 9.5V19.5L11.3 17.3L13.3 21L14.8 20.2L12.8 16.6H16Z" fill="#444"/>
<path d="M5.5 30.5L17 42M17 30.5L5.5 42" stroke="#444" stroke-width="0.9"/>
<rect x="9.3" y="34.3" width="4" height="4" fill="#f0f0f0" stroke="#444" stroke-width="0.8"/>
<rect x="3" y="48.5" width="17" height="1" fill="#bbb"/>
<!-- footprint -->
<rect x="5" y="57" width="13" height="11" rx="1.5" stroke="#1b6fc8" stroke-width="1"/>
<path d="M6.5 55.5h2.5v2.5h-2.5zM10.5 55.5h2.5v2.5h-2.5zM14.5 55.5h2.5v2.5h-2.5zM6.5 67h2.5v2.5h-2.5zM10.5 67h2.5v2.5h-2.5zM14.5 67h2.5v2.5h-2.5z" fill="#1b6fc8"/>
<!-- route -->
<path d="M4 92L9 86L13 86L18 79" stroke="#1b6fc8" stroke-width="1.5"/>
<path d="M19 92L22 89V92Z" fill="#111"/>
<!-- tune -->
<path d="M3.5 108V103a2 2 0 0 1 4 0v4a2 2 0 0 0 4 0v-4a2 2 0 0 1 4 0v4a2 2 0 0 0 4 0v-3" stroke="#1b6fc8" stroke-width="1.3"/>
<path d="M19 113L22 110V113Z" fill="#111"/>
<!-- via -->
<circle cx="11.5" cy="128.3" r="3.8" stroke="#f29100" stroke-width="2.2"/>
<!-- zone -->
<path d="M5 155v-8h5v-5h8v13z" fill="#1b6fc8"/>
<circle cx="14" cy="148" r="2.5" fill="#fff"/><path d="M13 148h3" stroke="#333"/>
<!-- rule area -->
<path d="M5 177v-9h4v-4h9v13z" fill="#fff" stroke="#333" stroke-width="0.8"/>
<path d="M6 176l5-5M9 177l8-8M13 177l4-4M6 172l4-4M10 168l3-3" stroke="#333" stroke-width="0.9"/>
<rect x="3" y="186" width="17" height="1" fill="#bbb"/>
<!-- line -->
<path d="M5 205l12-12" stroke="#333" stroke-width="1.1"/>
<!-- arc -->
<path d="M5 228a12 12 0 0 1 12-12" stroke="#333" stroke-width="1.1"/>
<!-- rect -->
<rect x="4.5" y="237" width="13.5" height="11" fill="#ddd" stroke="#444" stroke-width="1"/>
<!-- circle -->
<circle cx="11.3" cy="264.4" r="6" fill="#ddd" stroke="#444" stroke-width="1"/>
<!-- polygon -->
<path d="M4.5 280l13 4-5 3 5 5-13 3z" fill="#ddd" stroke="#444" stroke-width="1"/>
<!-- image -->
<rect x="4.5" y="302" width="13.5" height="12" rx="1" fill="#333"/>
<path d="M6 312l4-4 3 3 2-2 2 3z" fill="#fff"/><circle cx="14" cy="305.5" r="1.2" fill="#fff"/>
<!-- T -->
<path d="M5 324h12M11 324v12" stroke="#333" stroke-width="2"/>
<!-- textbox -->
<rect x="4.5" y="346.5" width="13" height="11" fill="#eee" stroke="#444" stroke-width="1"/>
<path d="M7 350h8M7 352.5h8M7 355h6" stroke="#444" stroke-width="0.8"/>
<!-- dimension -->
<path d="M5 378l12-6" stroke="#555" stroke-width="0.9"/>
<circle cx="5" cy="378.5" r="1.3" fill="#1b75d0"/><circle cx="17" cy="371.5" r="1.3" fill="#1b75d0"/>
<path d="M19 380L22 377V380Z" fill="#111"/>
<!-- delete -->
<path d="M6 389v10l2.3-2.2 2 3.5 1.5-.8-2-3.4h3.2z" fill="#444"/>
<circle cx="14.5" cy="399" r="3.6" fill="#d0202c"/>
<path d="M13 397.5l3 3M16 397.5l-3 3" stroke="#fff" stroke-width="0.9"/>
<rect x="3" y="409.3" width="17" height="1" fill="#bbb"/>
<!-- origin -->
<path d="M5 416v10h10" stroke="#333" stroke-width="0.9"/>
<path d="M11.5 417v8M7.5 421h8" stroke="#333" stroke-width="1.8"/>
<path d="M18 427L21 424V427Z" fill="#111"/>
<!-- measure -->
<path d="M4.5 442l10-10 3.5 3.5-10 10z" fill="#fff" stroke="#333" stroke-width="1.1"/>
<path d="M8 438.5l1.5 1.5M10.5 436l1.5 1.5M13 433.5l1.5 1.5" stroke="#333" stroke-width="0.7"/>
</g>
</svg>

<!-- appearance -->
<div class="a" id="app" style="left:1011px;top:72px;width:189px;height:551px;background:#f0f0f0"></div>
<div class="hdr" style="left:1011px;top:73.3px;width:189px;height:11.7px"></div>
<div class="t" style="left:1013px;top:76px">Appearance</div>
<div class="a" style="left:1012px;top:89px;width:31px;height:16px;background:#fff;border:1px solid #d9d9d9;border-bottom:none"></div>
<div class="t" style="left:1016px;top:93px">Layers</div>
<div class="a" style="left:1043px;top:90.5px;width:31.6px;height:14px;background:#f0f0f0;border:1px solid #d9d9d9;border-left:none;border-bottom:none"></div>
<div class="t" style="left:1046px;top:94px">Objects</div>
<div class="a" style="left:1074.6px;top:90.5px;width:29px;height:14px;background:#f0f0f0;border:1px solid #d9d9d9;border-left:none;border-bottom:none"></div>
<div class="t" style="left:1078px;top:94px">Nets</div>
<div class="a" style="left:1011.5px;top:104.5px;width:186px;height:379px;background:#fff;border:1px solid #d9d9d9"></div>
<div class="a" style="left:1013px;top:105.5px;width:183px;height:361px;background:#f0f0f0"></div>
<div class="a" style="left:1015px;top:104.5px;width:182px;height:11px;background:#dadada"></div>
<svg class="a" style="left:1017px;top:106px" width="6" height="8"><path d="M1 0.5L5 4L1 7.5Z" fill="#2a7ad6"/></svg>
<div class="a" style="left:1024px;top:105.8px;width:9px;height:8px;background:#c83434"></div>
<svg class="a" style="left:1036.5px;top:104.3px" width="11" height="11"><circle cx="5.5" cy="5.5" r="4.8" fill="#4a4a4a"/><ellipse cx="5.5" cy="5.5" rx="3.6" ry="2.2" fill="#fff"/><circle cx="5.5" cy="5.5" r="1.4" fill="#4a4a4a"/></svg>
<div class="t" style="left:1050px;top:106.0px;color:#222;font-weight:bold;letter-spacing:-0.3px">top_copper</div>
<div class="a" style="left:1024px;top:117.1px;width:9px;height:8px;background:#4d7fc4"></div>
<svg class="a" style="left:1036.5px;top:115.6px" width="11" height="11"><circle cx="5.5" cy="5.5" r="4.8" fill="#4a4a4a"/><ellipse cx="5.5" cy="5.5" rx="3.6" ry="2.2" fill="#fff"/><circle cx="5.5" cy="5.5" r="1.4" fill="#4a4a4a"/></svg>
<div class="t" style="left:1050px;top:117.3px;color:#222;font-weight:bold;letter-spacing:-0.3px">bottom_copper</div>
<div class="a" style="left:1024px;top:128.3px;width:9px;height:8px;background:#84199e"></div>
<svg class="a" style="left:1036.5px;top:126.8px" width="11" height="11"><circle cx="5.5" cy="5.5" r="4.8" fill="#4a4a4a"/><ellipse cx="5.5" cy="5.5" rx="3.6" ry="2.2" fill="#fff"/><circle cx="5.5" cy="5.5" r="1.4" fill="#4a4a4a"/></svg>
<div class="t" style="left:1050px;top:128.5px;color:#222;font-weight:bold;letter-spacing:-0.3px">F.Adhesive</div>
<div class="a" style="left:1024px;top:139.6px;width:9px;height:8px;background:#00008b"></div>
<svg class="a" style="left:1036.5px;top:138.1px" width="11" height="11"><circle cx="5.5" cy="5.5" r="4.8" fill="#4a4a4a"/><ellipse cx="5.5" cy="5.5" rx="3.6" ry="2.2" fill="#fff"/><circle cx="5.5" cy="5.5" r="1.4" fill="#4a4a4a"/></svg>
<div class="t" style="left:1050px;top:139.8px;color:#222;font-weight:bold;letter-spacing:-0.3px">B.Adhesive</div>
<div class="a" style="left:1024px;top:150.9px;width:9px;height:8px;background:#b49a96"></div>
<svg class="a" style="left:1036.5px;top:149.4px" width="11" height="11"><circle cx="5.5" cy="5.5" r="4.8" fill="#4a4a4a"/><ellipse cx="5.5" cy="5.5" rx="3.6" ry="2.2" fill="#fff"/><circle cx="5.5" cy="5.5" r="1.4" fill="#4a4a4a"/></svg>
<div class="t" style="left:1050px;top:151.1px;color:#222;font-weight:bold;letter-spacing:-0.3px">F.Paste</div>
<div class="a" style="left:1024px;top:162.1px;width:9px;height:8px;background:#26b8c8"></div>
<svg class="a" style="left:1036.5px;top:160.6px" width="11" height="11"><circle cx="5.5" cy="5.5" r="4.8" fill="#4a4a4a"/><ellipse cx="5.5" cy="5.5" rx="3.6" ry="2.2" fill="#fff"/><circle cx="5.5" cy="5.5" r="1.4" fill="#4a4a4a"/></svg>
<div class="t" style="left:1050px;top:162.3px;color:#222;font-weight:bold;letter-spacing:-0.3px">B.Paste</div>
<div class="a" style="left:1024px;top:173.4px;width:9px;height:8px;background:#f2eca0"></div>
<svg class="a" style="left:1036.5px;top:171.9px" width="11" height="11"><circle cx="5.5" cy="5.5" r="4.8" fill="#4a4a4a"/><ellipse cx="5.5" cy="5.5" rx="3.6" ry="2.2" fill="#fff"/><circle cx="5.5" cy="5.5" r="1.4" fill="#4a4a4a"/></svg>
<div class="t" style="left:1050px;top:173.6px;color:#222;font-weight:bold;letter-spacing:-0.3px">F.Silkscreen</div>
<div class="a" style="left:1024px;top:184.7px;width:9px;height:8px;background:#e8b0b0"></div>
<svg class="a" style="left:1036.5px;top:183.2px" width="11" height="11"><circle cx="5.5" cy="5.5" r="4.8" fill="#4a4a4a"/><ellipse cx="5.5" cy="5.5" rx="3.6" ry="2.2" fill="#fff"/><circle cx="5.5" cy="5.5" r="1.4" fill="#4a4a4a"/></svg>
<div class="t" style="left:1050px;top:184.9px;color:#222;font-weight:bold;letter-spacing:-0.3px">B.Silkscreen</div>
<div class="a" style="left:1024px;top:196.0px;width:9px;height:8px;background:#d864ff"></div>
<svg class="a" style="left:1036.5px;top:194.5px" width="11" height="11"><circle cx="5.5" cy="5.5" r="4.8" fill="#4a4a4a"/><ellipse cx="5.5" cy="5.5" rx="3.6" ry="2.2" fill="#fff"/><circle cx="5.5" cy="5.5" r="1.4" fill="#4a4a4a"/></svg>
<div class="t" style="left:1050px;top:196.2px;color:#222;font-weight:bold;letter-spacing:-0.3px">F.Mask</div>
<div class="a" style="left:1024px;top:207.2px;width:9px;height:8px;background:#00f0f0"></div>
<svg class="a" style="left:1036.5px;top:205.7px" width="11" height="11"><circle cx="5.5" cy="5.5" r="4.8" fill="#4a4a4a"/><ellipse cx="5.5" cy="5.5" rx="3.6" ry="2.2" fill="#fff"/><circle cx="5.5" cy="5.5" r="1.4" fill="#4a4a4a"/></svg>
<div class="t" style="left:1050px;top:207.4px;color:#222;font-weight:bold;letter-spacing:-0.3px">B.Mask</div>
<div class="a" style="left:1024px;top:218.5px;width:9px;height:8px;background:#c2c2c2"></div>
<svg class="a" style="left:1036.5px;top:217.0px" width="11" height="11"><circle cx="5.5" cy="5.5" r="4.8" fill="#4a4a4a"/><ellipse cx="5.5" cy="5.5" rx="3.6" ry="2.2" fill="#fff"/><circle cx="5.5" cy="5.5" r="1.4" fill="#4a4a4a"/></svg>
<div class="t" style="left:1050px;top:218.7px;color:#222;font-weight:bold;letter-spacing:-0.3px">User.Drawings</div>
<div class="a" style="left:1024px;top:229.8px;width:9px;height:8px;background:#598ad8"></div>
<svg class="a" style="left:1036.5px;top:228.3px" width="11" height="11"><circle cx="5.5" cy="5.5" r="4.8" fill="#4a4a4a"/><ellipse cx="5.5" cy="5.5" rx="3.6" ry="2.2" fill="#fff"/><circle cx="5.5" cy="5.5" r="1.4" fill="#4a4a4a"/></svg>
<div class="t" style="left:1050px;top:230.0px;color:#222;font-weight:bold;letter-spacing:-0.3px">User.Comments</div>
<div class="a" style="left:1024px;top:241.0px;width:9px;height:8px;background:#b4c8d8"></div>
<svg class="a" style="left:1036.5px;top:239.5px" width="11" height="11"><circle cx="5.5" cy="5.5" r="4.8" fill="#4a4a4a"/><ellipse cx="5.5" cy="5.5" rx="3.6" ry="2.2" fill="#fff"/><circle cx="5.5" cy="5.5" r="1.4" fill="#4a4a4a"/></svg>
<div class="t" style="left:1050px;top:241.2px;color:#222;font-weight:bold;letter-spacing:-0.3px">User.Eco1</div>
<div class="a" style="left:1024px;top:252.3px;width:9px;height:8px;background:#d8b440"></div>
<svg class="a" style="left:1036.5px;top:250.8px" width="11" height="11"><circle cx="5.5" cy="5.5" r="4.8" fill="#4a4a4a"/><ellipse cx="5.5" cy="5.5" rx="3.6" ry="2.2" fill="#fff"/><circle cx="5.5" cy="5.5" r="1.4" fill="#4a4a4a"/></svg>
<div class="t" style="left:1050px;top:252.5px;color:#222;font-weight:bold;letter-spacing:-0.3px">User.Eco2</div>
<div class="a" style="left:1024px;top:263.6px;width:9px;height:8px;background:#d0d0d0"></div>
<svg class="a" style="left:1036.5px;top:262.1px" width="11" height="11"><circle cx="5.5" cy="5.5" r="4.8" fill="#4a4a4a"/><ellipse cx="5.5" cy="5.5" rx="3.6" ry="2.2" fill="#fff"/><circle cx="5.5" cy="5.5" r="1.4" fill="#4a4a4a"/></svg>
<div class="t" style="left:1050px;top:263.8px;color:#222;font-weight:bold;letter-spacing:-0.3px">Edge.Cuts</div>
<div class="a" style="left:1024px;top:274.8px;width:9px;height:8px;background:#ff26e2"></div>
<svg class="a" style="left:1036.5px;top:273.3px" width="11" height="11"><circle cx="5.5" cy="5.5" r="4.8" fill="#4a4a4a"/><ellipse cx="5.5" cy="5.5" rx="3.6" ry="2.2" fill="#fff"/><circle cx="5.5" cy="5.5" r="1.4" fill="#4a4a4a"/></svg>
<div class="t" style="left:1050px;top:275.0px;color:#222;font-weight:bold;letter-spacing:-0.3px">Margin</div>
<div class="a" style="left:1024px;top:286.1px;width:9px;height:8px;background:#ff26e2"></div>
<svg class="a" style="left:1036.5px;top:284.6px" width="11" height="11"><circle cx="5.5" cy="5.5" r="4.8" fill="#4a4a4a"/><ellipse cx="5.5" cy="5.5" rx="3.6" ry="2.2" fill="#fff"/><circle cx="5.5" cy="5.5" r="1.4" fill="#4a4a4a"/></svg>
<div class="t" style="left:1050px;top:286.3px;color:#222;font-weight:bold;letter-spacing:-0.3px">F.Courtyard</div>
<div class="a" style="left:1024px;top:297.4px;width:9px;height:8px;background:#26e9ff"></div>
<svg class="a" style="left:1036.5px;top:295.9px" width="11" height="11"><circle cx="5.5" cy="5.5" r="4.8" fill="#4a4a4a"/><ellipse cx="5.5" cy="5.5" rx="3.6" ry="2.2" fill="#fff"/><circle cx="5.5" cy="5.5" r="1.4" fill="#4a4a4a"/></svg>
<div class="t" style="left:1050px;top:297.6px;color:#222;font-weight:bold;letter-spacing:-0.3px">B.Courtyard</div>
<div class="a" style="left:1024px;top:308.7px;width:9px;height:8px;background:#afafaf"></div>
<svg class="a" style="left:1036.5px;top:307.2px" width="11" height="11"><circle cx="5.5" cy="5.5" r="4.8" fill="#4a4a4a"/><ellipse cx="5.5" cy="5.5" rx="3.6" ry="2.2" fill="#fff"/><circle cx="5.5" cy="5.5" r="1.4" fill="#4a4a4a"/></svg>
<div class="t" style="left:1050px;top:308.9px;color:#222;font-weight:bold;letter-spacing:-0.3px">F.Fab</div>
<div class="a" style="left:1024px;top:319.9px;width:9px;height:8px;background:#505080"></div>
<svg class="a" style="left:1036.5px;top:318.4px" width="11" height="11"><circle cx="5.5" cy="5.5" r="4.8" fill="#4a4a4a"/><ellipse cx="5.5" cy="5.5" rx="3.6" ry="2.2" fill="#fff"/><circle cx="5.5" cy="5.5" r="1.4" fill="#4a4a4a"/></svg>
<div class="t" style="left:1050px;top:320.1px;color:#222;font-weight:bold;letter-spacing:-0.3px">B.Fab</div>
<svg class="a" style="left:1020px;top:471.5px" width="5" height="7"><path d="M1 0.5L4 3.5L1 6.5Z" fill="#111"/></svg>
<div class="t" style="left:1025px;top:471px">Layer Display Options</div>
<div class="t" style="left:1015.4px;top:489px">Presets (Ctrl+Tab):</div>
<div class="combo" style="left:1015.4px;top:498.4px;width:180.6px;height:14px"></div>
<div class="t" style="left:1018.5px;top:501.5px">All Layers</div>
<div class="arrow" style="left:1187.5px;top:502px;width:4px;height:4px;border-color:#555"></div>
<div class="t" style="left:1015.4px;top:516px">Viewports (Shift+Tab):</div>
<div class="combo" style="left:1015.4px;top:525.3px;width:180.6px;height:14px"></div>
<div class="t" style="left:1018.5px;top:528.5px">---</div>
<div class="arrow" style="left:1187.5px;top:529px;width:4px;height:4px;border-color:#555"></div>
<div class="hdr" style="left:1011.2px;top:548.8px;width:189px;height:11.4px"></div>
<div class="t" style="left:1013px;top:551px">Selection Filter</div>
<svg class="a" style="left:1014.0px;top:563.9px" width="9" height="9"><rect x="0.5" y="0.5" width="8" height="8" fill="#fff" stroke="#333"/><path d="M2 4.5L3.8 6.5L7 2.5" fill="none" stroke="#222" stroke-width="1"/></svg>
<div class="t" style="left:1024.8px;top:564.6px">All items</div>
<svg class="a" style="left:1072.1px;top:563.9px" width="9" height="9"><rect x="0.5" y="0.5" width="8" height="8" fill="#fff" stroke="#333"/><path d="M2 4.5L3.8 6.5L7 2.5" fill="none" stroke="#222" stroke-width="1"/></svg>
<div class="t" style="left:1082.0px;top:564.6px">Locked items</div>
<svg class="a" style="left:1014.0px;top:573.3px" width="9" height="9"><rect x="0.5" y="0.5" width="8" height="8" fill="#fff" stroke="#333"/><path d="M2 4.5L3.8 6.5L7 2.5" fill="none" stroke="#222" stroke-width="1"/></svg>
<div class="t" style="left:1024.8px;top:574.0px">Footprints</div>
<svg class="a" style="left:1072.1px;top:573.3px" width="9" height="9"><rect x="0.5" y="0.5" width="8" height="8" fill="#fff" stroke="#333"/><path d="M2 4.5L3.8 6.5L7 2.5" fill="none" stroke="#222" stroke-width="1"/></svg>
<div class="t" style="left:1082.0px;top:574.0px">Text</div>
<svg class="a" style="left:1014.0px;top:582.7px" width="9" height="9"><rect x="0.5" y="0.5" width="8" height="8" fill="#fff" stroke="#333"/><path d="M2 4.5L3.8 6.5L7 2.5" fill="none" stroke="#222" stroke-width="1"/></svg>
<div class="t" style="left:1024.8px;top:583.4px">Tracks</div>
<svg class="a" style="left:1072.1px;top:582.7px" width="9" height="9"><rect x="0.5" y="0.5" width="8" height="8" fill="#fff" stroke="#333"/><path d="M2 4.5L3.8 6.5L7 2.5" fill="none" stroke="#222" stroke-width="1"/></svg>
<div class="t" style="left:1082.0px;top:583.4px">Vias</div>
<svg class="a" style="left:1014.0px;top:592.2px" width="9" height="9"><rect x="0.5" y="0.5" width="8" height="8" fill="#fff" stroke="#333"/><path d="M2 4.5L3.8 6.5L7 2.5" fill="none" stroke="#222" stroke-width="1"/></svg>
<div class="t" style="left:1024.8px;top:592.9px">Pads</div>
<svg class="a" style="left:1072.1px;top:592.2px" width="9" height="9"><rect x="0.5" y="0.5" width="8" height="8" fill="#fff" stroke="#333"/><path d="M2 4.5L3.8 6.5L7 2.5" fill="none" stroke="#222" stroke-width="1"/></svg>
<div class="t" style="left:1082.0px;top:592.9px">Graphics</div>
<svg class="a" style="left:1014.0px;top:601.6px" width="9" height="9"><rect x="0.5" y="0.5" width="8" height="8" fill="#fff" stroke="#333"/><path d="M2 4.5L3.8 6.5L7 2.5" fill="none" stroke="#222" stroke-width="1"/></svg>
<div class="t" style="left:1024.8px;top:602.3px">Zones</div>
<svg class="a" style="left:1072.1px;top:601.6px" width="9" height="9"><rect x="0.5" y="0.5" width="8" height="8" fill="#fff" stroke="#333"/><path d="M2 4.5L3.8 6.5L7 2.5" fill="none" stroke="#222" stroke-width="1"/></svg>
<div class="t" style="left:1082.0px;top:602.3px">Rule Areas</div>
<svg class="a" style="left:1014.0px;top:611.0px" width="9" height="9"><rect x="0.5" y="0.5" width="8" height="8" fill="#fff" stroke="#333"/><path d="M2 4.5L3.8 6.5L7 2.5" fill="none" stroke="#222" stroke-width="1"/></svg>
<div class="t" style="left:1024.8px;top:611.7px">Dimensions</div>
<svg class="a" style="left:1072.1px;top:611.0px" width="9" height="9"><rect x="0.5" y="0.5" width="8" height="8" fill="#fff" stroke="#333"/><path d="M2 4.5L3.8 6.5L7 2.5" fill="none" stroke="#222" stroke-width="1"/></svg>
<div class="t" style="left:1082.0px;top:611.7px">Other items</div>
<!-- status -->
<div class="a" id="status" style="left:0;top:622px;width:1200px;height:34px;background:#f0f0f0"></div>
<div class="t" style="left:7.0px;top:624.5px">U1</div>
<div class="t" style="left:7.0px;top:633.5px">74LS125</div>
<div class="t" style="left:51.0px;top:624.5px">Board Side</div>
<div class="t" style="left:51.0px;top:633.5px">Front</div>
<div class="t" style="left:104.0px;top:624.5px">Status:</div>
<div class="t" style="left:104.0px;top:633.5px">Attributes:</div>
<div class="t" style="left:158.0px;top:624.5px">Rotation</div>
<div class="t" style="left:158.0px;top:633.5px">0</div>
<div class="t" style="left:205.0px;top:624.5px">Footprint: Package_DIP:DIP-14_W7.62mm_LongPads</div>
<div class="t" style="left:205.0px;top:633.5px">3D-Shape: ${KICAD6_3DMODEL_DIR}/Package_DIP.3dshapes/DIP-14_W7.62mm.wrl</div>
<div class="t" style="left:494.7px;top:624.5px">Doc: 14-lead though-hole mounted DIP package, row spacing 7.62 mm (300 mils), LongPads</div>
<div class="t" style="left:494.7px;top:633.5px">Keywords: THT DIP DIL PDIP 2.54mm 7.62mm 300mil LongPads</div>
<div class="a" style="left:530.6px;top:643px;width:1px;height:13px;background:#d0d0d0"></div>
<div class="a" style="left:579.3px;top:643px;width:1px;height:13px;background:#d0d0d0"></div>
<div class="a" style="left:679.3px;top:643px;width:1px;height:13px;background:#d0d0d0"></div>
<div class="a" style="left:836.5px;top:643px;width:1px;height:13px;background:#d0d0d0"></div>
<div class="a" style="left:951.7px;top:643px;width:1px;height:13px;background:#d0d0d0"></div>
<div class="a" style="left:992.8px;top:643px;width:1px;height:13px;background:#d0d0d0"></div>
<div class="a" style="left:1100.5px;top:643px;width:1px;height:13px;background:#d0d0d0"></div>
<div class="a" style="left:0;top:642.5px;width:1200px;height:1px;background:#e0e0e0"></div>
<div class="t" style="left:533.5px;top:646px">Z 2.76</div>
<div class="t" style="left:582.5px;top:646px">X 123.7488&nbsp; Y 64.2112</div>
<div class="t" style="left:682.7px;top:646px">dx 123.7488&nbsp; dy 64.2112&nbsp; dist 139.4161</div>
<div class="t" style="left:839.0px;top:646px">grid X 0.0508&nbsp; Y 0.0508</div>
<div class="t" style="left:954.0px;top:646px">mm</div>
<div class="t" style="left:1104.0px;top:646px">Constrain to H, V, 45</div>
</body></html>
